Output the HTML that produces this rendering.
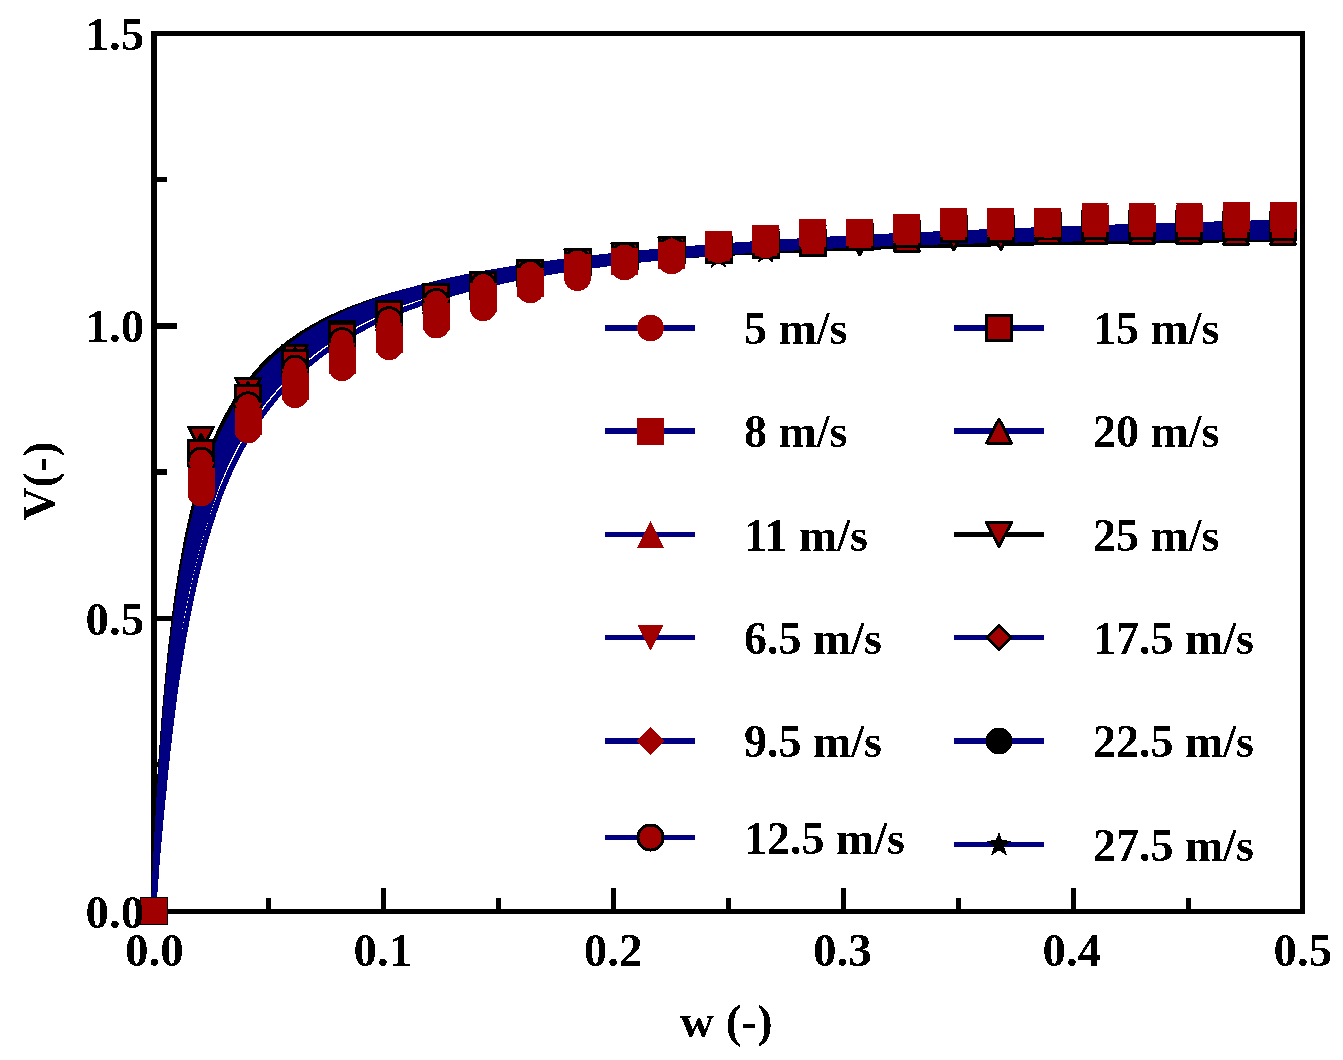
<!DOCTYPE html><html><head><meta charset="utf-8"><style>html,body{margin:0;padding:0;background:#fff;}svg{display:block}</style></head><body>
<svg width="1343" height="1060" viewBox="0 0 1343 1060" shape-rendering="crispEdges">
<defs><filter id="bin" x="0" y="0" width="1" height="1" color-interpolation-filters="sRGB"><feComponentTransfer><feFuncA type="discrete" tableValues="0 1"/></feComponentTransfer></filter></defs>
<rect width="1343" height="1060" fill="#fff"/>
<g fill="#000">
<rect x="151" y="31" width="1154" height="5"/><rect x="151" y="909" width="1154" height="5"/>
<rect x="151" y="31" width="6" height="883"/><rect x="1300" y="31" width="5" height="883"/>
<rect x="266.0" y="898" width="5" height="12"/>
<rect x="381.0" y="888" width="5" height="22"/>
<rect x="496.0" y="898" width="5" height="12"/>
<rect x="611.0" y="888" width="5" height="22"/>
<rect x="726.0" y="898" width="5" height="12"/>
<rect x="841.0" y="888" width="5" height="22"/>
<rect x="956.0" y="898" width="5" height="12"/>
<rect x="1071.0" y="888" width="5" height="22"/>
<rect x="1186.0" y="898" width="5" height="12"/>
<rect x="156" y="177" width="11" height="5"/>
<rect x="156" y="323" width="21" height="6"/>
<rect x="156" y="469" width="11" height="6"/>
<rect x="156" y="616" width="21" height="5"/>
<rect x="156" y="762" width="11" height="5"/>
</g>
<g fill="none" stroke-linejoin="round" stroke-linecap="butt" stroke-width="5.5">
<path d="M153.5,911.5 153.8,903.5 154.1,896.0 154.4,888.9 154.7,881.9 154.9,875.2 155.2,868.6 155.5,862.3 155.8,856.0 156.1,849.9 156.4,844.0 156.7,838.2 156.9,832.5 157.2,826.9 157.5,821.4 157.8,816.1 158.1,810.9 158.4,805.7 158.7,800.7 159.0,795.7 159.2,790.9 159.5,786.1 159.8,781.4 160.1,776.8 160.4,772.3 161.1,761.6 161.8,751.4 162.5,741.6 163.2,732.2 163.9,723.1 164.6,714.4 165.3,705.9 166.0,697.8 166.7,689.9 167.4,682.3 168.1,675.0 168.8,667.9 169.5,661.0 170.2,654.3 170.9,647.9 171.6,641.6 172.3,635.5 173.0,629.6 173.7,623.9 174.4,618.3 175.1,612.9 175.8,607.7 176.4,602.5 177.1,597.6 177.8,592.7 178.5,588.0 179.2,583.4 179.9,578.9 180.6,574.5 181.3,570.2 182.0,566.1 182.7,562.0 183.4,558.0 184.1,554.1 184.8,550.3 185.5,546.6 186.2,543.0 186.9,539.5 187.6,536.0 188.3,532.6 189.0,529.3 189.7,526.1 190.4,522.9 191.1,519.8 191.8,516.7 192.5,513.7 193.2,510.8 193.9,508.0 194.6,505.1 195.3,502.4 196.0,499.7 196.7,497.0 197.4,494.4 198.1,491.9 198.8,489.4 199.5,486.9 200.2,484.5 200.9,482.1 201.6,479.8 202.3,477.5 203.0,475.3 203.7,473.1 204.4,470.9 205.1,468.8 205.8,466.7 206.5,464.6 207.1,462.6 207.8,460.6 208.5,458.6 209.2,456.7 209.9,454.8 210.6,452.9 211.3,451.1 212.0,449.3 212.7,447.5 213.4,445.8 214.1,444.0 214.8,442.3 215.5,440.6 216.2,439.0 216.9,437.4 217.6,435.8 218.3,434.2 219.0,432.6 219.7,431.1 220.4,429.6 221.1,428.1 221.8,426.6 222.5,425.2 229.2,412.3 235.8,400.9 242.5,390.8 249.2,381.8 255.9,373.6 262.5,366.2 269.2,359.5 275.9,353.4 282.5,347.8 289.2,342.6 295.9,337.9 302.6,333.4 309.2,329.3 315.9,325.5 322.6,321.9 329.2,318.6 335.9,315.5 342.6,312.5 349.3,309.7 355.9,307.1 362.6,304.7 369.3,302.3 375.9,300.1 382.6,298.0 389.3,296.0 395.9,294.1 402.6,292.3 409.3,290.6 416.0,289.0 422.6,287.4 429.3,285.9 436.0,284.5 442.6,283.1 449.3,281.8 456.0,280.5 462.7,279.3 469.3,278.1 476.0,277.0 482.7,275.9 489.3,274.9 496.0,273.9 502.7,272.9 509.4,272.0 516.0,271.1 522.7,270.2 529.4,269.4 536.0,268.6 542.7,267.8 549.4,267.0 556.1,266.3 562.7,265.6 569.4,264.9 576.1,264.2 582.7,263.6 589.4,262.9 596.1,262.3 602.8,261.7 609.4,261.2 616.1,260.6 622.8,260.1 629.4,259.5 636.1,259.0 642.8,258.5 649.4,258.0 656.1,257.5 662.8,257.1 669.5,256.6 676.1,256.2 682.8,255.8 689.5,255.3 696.1,254.9 702.8,254.5 709.5,254.2 716.2,253.8 722.8,253.4 729.5,253.1 736.2,252.7 742.8,252.4 749.5,252.0 756.2,251.7 762.9,251.4 769.5,251.1 776.2,250.8 782.9,250.5 789.5,250.2 796.2,249.9 802.9,249.6 809.6,249.3 816.2,249.1 822.9,248.8 829.6,248.6 836.2,248.3 842.9,248.1 849.6,247.8 856.3,247.6 862.9,247.4 869.6,247.1 876.3,246.9 882.9,246.7 889.6,246.5 896.3,246.3 902.9,246.1 909.6,245.9 916.3,245.7 923.0,245.5 929.6,245.3 936.3,245.1 943.0,244.9 949.6,244.8 956.3,244.6 963.0,244.4 969.7,244.2 976.3,244.1 983.0,243.9 989.7,243.8 996.3,243.6 1003.0,243.5 1009.7,243.3 1016.4,243.2 1023.0,243.0 1029.7,242.9 1036.4,242.7 1043.0,242.6 1049.7,242.5 1056.4,242.3 1063.1,242.2 1069.7,242.1 1076.4,242.0 1083.1,241.8 1089.7,241.7 1096.4,241.6 1103.1,241.5 1109.8,241.4 1116.4,241.3 1123.1,241.2 1129.8,241.0 1136.4,240.9 1143.1,240.8 1149.8,240.7 1156.4,240.6 1163.1,240.5 1169.8,240.4 1176.5,240.3 1183.1,240.3 1189.8,240.2 1196.5,240.1 1203.1,240.0 1209.8,239.9 1216.5,239.8 1223.2,239.7 1229.8,239.6 1236.5,239.6 1243.2,239.5 1249.8,239.4 1256.5,239.3 1263.2,239.3 1269.9,239.2 1276.5,239.1 1283.2,239.0" stroke="#000"/>
<path d="M153.5,911.5 153.8,904.1 154.1,897.2 154.4,890.6 154.7,884.1 154.9,877.9 155.2,871.8 155.5,865.8 155.8,860.0 156.1,854.3 156.4,848.7 156.7,843.2 156.9,837.8 157.2,832.6 157.5,827.4 157.8,822.4 158.1,817.4 158.4,812.5 158.7,807.7 159.0,803.0 159.2,798.4 159.5,793.9 159.8,789.4 160.1,785.0 160.4,780.7 161.1,770.5 161.8,760.7 162.5,751.2 163.2,742.1 163.9,733.3 164.6,724.8 165.3,716.7 166.0,708.7 166.7,701.1 167.4,693.7 168.1,686.5 168.8,679.5 169.5,672.7 170.2,666.2 170.9,659.8 171.6,653.7 172.3,647.7 173.0,641.8 173.7,636.1 174.4,630.6 175.1,625.2 175.8,620.0 176.4,614.9 177.1,609.9 177.8,605.1 178.5,600.4 179.2,595.8 179.9,591.3 180.6,586.9 181.3,582.6 182.0,578.4 182.7,574.3 183.4,570.3 184.1,566.4 184.8,562.6 185.5,558.9 186.2,555.2 186.9,551.6 187.6,548.1 188.3,544.7 189.0,541.3 189.7,538.0 190.4,534.8 191.1,531.7 191.8,528.6 192.5,525.5 193.2,522.5 193.9,519.6 194.6,516.8 195.3,514.0 196.0,511.2 196.7,508.5 197.4,505.8 198.1,503.2 198.8,500.7 199.5,498.1 200.2,495.7 200.9,493.2 201.6,490.9 202.3,488.5 203.0,486.2 203.7,483.9 204.4,481.7 205.1,479.5 205.8,477.3 206.5,475.2 207.1,473.1 207.8,471.1 208.5,469.1 209.2,467.1 209.9,465.1 210.6,463.2 211.3,461.3 212.0,459.4 212.7,457.6 213.4,455.7 214.1,454.0 214.8,452.2 215.5,450.5 216.2,448.8 216.9,447.1 217.6,445.4 218.3,443.8 219.0,442.1 219.7,440.6 220.4,439.0 221.1,437.4 221.8,435.9 222.5,434.4 229.2,421.0 235.8,409.0 242.5,398.4 249.2,388.9 255.9,380.3 262.5,372.5 269.2,365.4 275.9,358.8 282.5,352.8 289.2,347.3 295.9,342.2 302.6,337.4 309.2,333.0 315.9,328.9 322.6,325.0 329.2,321.4 335.9,317.9 342.6,314.7 349.3,311.7 355.9,308.8 362.6,306.1 369.3,303.5 375.9,301.1 382.6,298.8 389.3,296.6 395.9,294.4 402.6,292.4 409.3,290.5 416.0,288.7 422.6,286.9 429.3,285.2 436.0,283.6 442.6,282.0 449.3,280.5 456.0,279.1 462.7,277.7 469.3,276.3 476.0,275.0 482.7,273.8 489.3,272.6 496.0,271.4 502.7,270.3 509.4,269.2 516.0,268.1 522.7,267.1 529.4,266.1 536.0,265.1 542.7,264.2 549.4,263.3 556.1,262.4 562.7,261.5 569.4,260.7 576.1,259.9 582.7,259.1 589.4,258.3 596.1,257.6 602.8,256.8 609.4,256.1 616.1,255.4 622.8,254.7 629.4,254.1 636.1,253.4 642.8,252.8 649.4,252.2 656.1,251.6 662.8,251.0 669.5,250.4 676.1,249.8 682.8,249.3 689.5,248.7 696.1,248.2 702.8,247.6 709.5,247.1 716.2,246.6 722.8,246.1 729.5,245.7 736.2,245.2 742.8,244.7 749.5,244.3 756.2,243.8 762.9,243.4 769.5,242.9 776.2,242.5 782.9,242.1 789.5,241.7 796.2,241.3 802.9,240.9 809.6,240.5 816.2,240.1 822.9,239.7 829.6,239.3 836.2,239.0 842.9,238.6 849.6,238.3 856.3,237.9 862.9,237.6 869.6,237.2 876.3,236.9 882.9,236.6 889.6,236.2 896.3,235.9 902.9,235.6 909.6,235.3 916.3,235.0 923.0,234.7 929.6,234.4 936.3,234.1 943.0,233.8 949.6,233.5 956.3,233.2 963.0,232.9 969.7,232.6 976.3,232.4 983.0,232.1 989.7,231.8 996.3,231.6 1003.0,231.3 1009.7,231.0 1016.4,230.8 1023.0,230.5 1029.7,230.3 1036.4,230.0 1043.0,229.8 1049.7,229.5 1056.4,229.3 1063.1,229.1 1069.7,228.8 1076.4,228.6 1083.1,228.4 1089.7,228.1 1096.4,227.9 1103.1,227.7 1109.8,227.5 1116.4,227.2 1123.1,227.0 1129.8,226.8 1136.4,226.6 1143.1,226.4 1149.8,226.2 1156.4,226.0 1163.1,225.8 1169.8,225.6 1176.5,225.4 1183.1,225.2 1189.8,225.0 1196.5,224.8 1203.1,224.6 1209.8,224.4 1216.5,224.2 1223.2,224.0 1229.8,223.8 1236.5,223.6 1243.2,223.4 1249.8,223.3 1256.5,223.1 1263.2,222.9 1269.9,222.7 1276.5,222.5 1283.2,222.4" stroke="#000080"/>
<path d="M153.5,911.5 153.8,904.3 154.1,897.5 154.4,891.0 154.7,884.7 154.9,878.5 155.2,872.5 155.5,866.7 155.8,860.9 156.1,855.3 156.4,849.9 156.7,844.5 156.9,839.2 157.2,834.1 157.5,829.0 157.8,824.0 158.1,819.1 158.4,814.3 158.7,809.6 159.0,805.0 159.2,800.5 159.5,796.0 159.8,791.6 160.1,787.3 160.4,783.0 161.1,773.0 161.8,763.3 162.5,754.0 163.2,745.0 163.9,736.4 164.6,728.0 165.3,719.9 166.0,712.1 166.7,704.5 167.4,697.2 168.1,690.1 168.8,683.2 169.5,676.5 170.2,670.0 170.9,663.7 171.6,657.6 172.3,651.6 173.0,645.8 173.7,640.2 174.4,634.7 175.1,629.3 175.8,624.1 176.4,619.1 177.1,614.1 177.8,609.3 178.5,604.6 179.2,600.0 179.9,595.5 180.6,591.2 181.3,586.9 182.0,582.7 182.7,578.6 183.4,574.7 184.1,570.8 184.8,566.9 185.5,563.2 186.2,559.6 186.9,556.0 187.6,552.5 188.3,549.1 189.0,545.7 189.7,542.4 190.4,539.2 191.1,536.0 191.8,532.9 192.5,529.9 193.2,526.9 193.9,524.0 194.6,521.1 195.3,518.3 196.0,515.5 196.7,512.8 197.4,510.1 198.1,507.5 198.8,504.9 199.5,502.4 200.2,499.9 200.9,497.5 201.6,495.1 202.3,492.7 203.0,490.4 203.7,488.1 204.4,485.9 205.1,483.7 205.8,481.5 206.5,479.4 207.1,477.3 207.8,475.2 208.5,473.2 209.2,471.2 209.9,469.2 210.6,467.2 211.3,465.3 212.0,463.4 212.7,461.6 213.4,459.8 214.1,458.0 214.8,456.2 215.5,454.4 216.2,452.7 216.9,451.0 217.6,449.3 218.3,447.7 219.0,446.0 219.7,444.4 220.4,442.8 221.1,441.3 221.8,439.7 222.5,438.2 229.2,424.6 235.8,412.6 242.5,401.8 249.2,392.1 255.9,383.4 262.5,375.4 269.2,368.2 275.9,361.5 282.5,355.4 289.2,349.8 295.9,344.5 302.6,339.7 309.2,335.2 315.9,330.9 322.6,327.0 329.2,323.3 335.9,319.8 342.6,316.5 349.3,313.4 355.9,310.5 362.6,307.7 369.3,305.0 375.9,302.5 382.6,300.2 389.3,297.9 395.9,295.7 402.6,293.7 409.3,291.7 416.0,289.8 422.6,288.0 429.3,286.3 436.0,284.6 442.6,283.0 449.3,281.5 456.0,280.0 462.7,278.6 469.3,277.2 476.0,275.9 482.7,274.6 489.3,273.4 496.0,272.2 502.7,271.0 509.4,269.9 516.0,268.8 522.7,267.8 529.4,266.8 536.0,265.8 542.7,264.8 549.4,263.9 556.1,263.0 562.7,262.1 569.4,261.3 576.1,260.4 582.7,259.6 589.4,258.9 596.1,258.1 602.8,257.4 609.4,256.6 616.1,255.9 622.8,255.2 629.4,254.6 636.1,253.9 642.8,253.3 649.4,252.6 656.1,252.0 662.8,251.4 669.5,250.8 676.1,250.3 682.8,249.7 689.5,249.2 696.1,248.6 702.8,248.1 709.5,247.6 716.2,247.1 722.8,246.6 729.5,246.1 736.2,245.6 742.8,245.1 749.5,244.7 756.2,244.2 762.9,243.8 769.5,243.4 776.2,242.9 782.9,242.5 789.5,242.1 796.2,241.7 802.9,241.3 809.6,240.9 816.2,240.5 822.9,240.2 829.6,239.8 836.2,239.4 842.9,239.1 849.6,238.7 856.3,238.4 862.9,238.0 869.6,237.7 876.3,237.4 882.9,237.0 889.6,236.7 896.3,236.4 902.9,236.1 909.6,235.8 916.3,235.5 923.0,235.2 929.6,234.9 936.3,234.6 943.0,234.3 949.6,234.0 956.3,233.8 963.0,233.5 969.7,233.2 976.3,232.9 983.0,232.7 989.7,232.4 996.3,232.2 1003.0,231.9 1009.7,231.7 1016.4,231.4 1023.0,231.2 1029.7,230.9 1036.4,230.7 1043.0,230.4 1049.7,230.2 1056.4,230.0 1063.1,229.7 1069.7,229.5 1076.4,229.3 1083.1,229.1 1089.7,228.9 1096.4,228.6 1103.1,228.4 1109.8,228.2 1116.4,228.0 1123.1,227.8 1129.8,227.6 1136.4,227.4 1143.1,227.2 1149.8,227.0 1156.4,226.8 1163.1,226.6 1169.8,226.4 1176.5,226.2 1183.1,226.0 1189.8,225.8 1196.5,225.7 1203.1,225.5 1209.8,225.3 1216.5,225.1 1223.2,224.9 1229.8,224.8 1236.5,224.6 1243.2,224.4 1249.8,224.2 1256.5,224.1 1263.2,223.9 1269.9,223.7 1276.5,223.6 1283.2,223.4" stroke="#000080"/>
<path d="M153.5,911.5 153.8,904.4 154.1,897.8 154.4,891.4 154.7,885.2 154.9,879.1 155.2,873.3 155.5,867.5 155.8,861.9 156.1,856.4 156.4,851.0 156.7,845.8 156.9,840.6 157.2,835.5 157.5,830.6 157.8,825.7 158.1,820.9 158.4,816.2 158.7,811.5 159.0,807.0 159.2,802.5 159.5,798.1 159.8,793.8 160.1,789.6 160.4,785.4 161.1,775.5 161.8,766.0 162.5,756.8 163.2,747.9 163.9,739.4 164.6,731.1 165.3,723.1 166.0,715.4 166.7,707.9 167.4,700.7 168.1,693.6 168.8,686.8 169.5,680.2 170.2,673.8 170.9,667.5 171.6,661.4 172.3,655.5 173.0,649.8 173.7,644.2 174.4,638.8 175.1,633.5 175.8,628.3 176.4,623.2 177.1,618.3 177.8,613.5 178.5,608.9 179.2,604.3 179.9,599.8 180.6,595.5 181.3,591.2 182.0,587.0 182.7,583.0 183.4,579.0 184.1,575.1 184.8,571.3 185.5,567.6 186.2,563.9 186.9,560.3 187.6,556.8 188.3,553.4 189.0,550.1 189.7,546.8 190.4,543.5 191.1,540.4 191.8,537.3 192.5,534.2 193.2,531.2 193.9,528.3 194.6,525.4 195.3,522.6 196.0,519.8 196.7,517.1 197.4,514.4 198.1,511.8 198.8,509.2 199.5,506.7 200.2,504.2 200.9,501.7 201.6,499.3 202.3,497.0 203.0,494.6 203.7,492.3 204.4,490.1 205.1,487.9 205.8,485.7 206.5,483.5 207.1,481.4 207.8,479.3 208.5,477.3 209.2,475.3 209.9,473.3 210.6,471.3 211.3,469.4 212.0,467.5 212.7,465.6 213.4,463.8 214.1,461.9 214.8,460.2 215.5,458.4 216.2,456.6 216.9,454.9 217.6,453.2 218.3,451.6 219.0,449.9 219.7,448.3 220.4,446.7 221.1,445.1 221.8,443.5 222.5,442.0 229.2,428.3 235.8,416.1 242.5,405.1 249.2,395.3 255.9,386.4 262.5,378.4 269.2,371.0 275.9,364.2 282.5,358.0 289.2,352.2 295.9,346.9 302.6,341.9 309.2,337.3 315.9,333.0 322.6,329.0 329.2,325.2 335.9,321.6 342.6,318.3 349.3,315.1 355.9,312.1 362.6,309.2 369.3,306.5 375.9,304.0 382.6,301.6 389.3,299.2 395.9,297.0 402.6,294.9 409.3,292.9 416.0,291.0 422.6,289.1 429.3,287.3 436.0,285.6 442.6,284.0 449.3,282.4 456.0,280.9 462.7,279.5 469.3,278.1 476.0,276.7 482.7,275.4 489.3,274.2 496.0,273.0 502.7,271.8 509.4,270.6 516.0,269.5 522.7,268.5 529.4,267.4 536.0,266.4 542.7,265.5 549.4,264.5 556.1,263.6 562.7,262.7 569.4,261.9 576.1,261.0 582.7,260.2 589.4,259.4 596.1,258.6 602.8,257.9 609.4,257.1 616.1,256.4 622.8,255.7 629.4,255.0 636.1,254.4 642.8,253.7 649.4,253.1 656.1,252.5 662.8,251.9 669.5,251.3 676.1,250.7 682.8,250.2 689.5,249.6 696.1,249.1 702.8,248.5 709.5,248.0 716.2,247.5 722.8,247.0 729.5,246.5 736.2,246.0 742.8,245.6 749.5,245.1 756.2,244.7 762.9,244.2 769.5,243.8 776.2,243.4 782.9,243.0 789.5,242.6 796.2,242.2 802.9,241.8 809.6,241.4 816.2,241.0 822.9,240.6 829.6,240.3 836.2,239.9 842.9,239.5 849.6,239.2 856.3,238.9 862.9,238.5 869.6,238.2 876.3,237.9 882.9,237.5 889.6,237.2 896.3,236.9 902.9,236.6 909.6,236.3 916.3,236.0 923.0,235.7 929.6,235.4 936.3,235.1 943.0,234.9 949.6,234.6 956.3,234.3 963.0,234.0 969.7,233.8 976.3,233.5 983.0,233.3 989.7,233.0 996.3,232.8 1003.0,232.5 1009.7,232.3 1016.4,232.0 1023.0,231.8 1029.7,231.6 1036.4,231.3 1043.0,231.1 1049.7,230.9 1056.4,230.7 1063.1,230.4 1069.7,230.2 1076.4,230.0 1083.1,229.8 1089.7,229.6 1096.4,229.4 1103.1,229.2 1109.8,229.0 1116.4,228.8 1123.1,228.6 1129.8,228.4 1136.4,228.2 1143.1,228.0 1149.8,227.8 1156.4,227.6 1163.1,227.4 1169.8,227.3 1176.5,227.1 1183.1,226.9 1189.8,226.7 1196.5,226.6 1203.1,226.4 1209.8,226.2 1216.5,226.0 1223.2,225.9 1229.8,225.7 1236.5,225.5 1243.2,225.4 1249.8,225.2 1256.5,225.1 1263.2,224.9 1269.9,224.7 1276.5,224.6 1283.2,224.4" stroke="#000080"/>
<path d="M153.5,911.5 153.8,904.5 154.1,898.0 154.4,891.8 154.7,885.7 154.9,879.8 155.2,874.0 155.5,868.4 155.8,862.9 156.1,857.5 156.4,852.2 156.7,847.1 156.9,842.0 157.2,837.0 157.5,832.1 157.8,827.3 158.1,822.6 158.4,818.0 158.7,813.5 159.0,809.0 159.2,804.6 159.5,800.3 159.8,796.0 160.1,791.8 160.4,787.7 161.1,778.0 161.8,768.6 162.5,759.6 163.2,750.8 163.9,742.4 164.6,734.3 165.3,726.4 166.0,718.7 166.7,711.4 167.4,704.2 168.1,697.2 168.8,690.5 169.5,683.9 170.2,677.6 170.9,671.4 171.6,665.3 172.3,659.5 173.0,653.8 173.7,648.2 174.4,642.8 175.1,637.6 175.8,632.4 176.4,627.4 177.1,622.5 177.8,617.7 178.5,613.1 179.2,608.5 179.9,604.1 180.6,599.8 181.3,595.5 182.0,591.4 182.7,587.3 183.4,583.3 184.1,579.5 184.8,575.7 185.5,571.9 186.2,568.3 186.9,564.7 187.6,561.2 188.3,557.8 189.0,554.4 189.7,551.1 190.4,547.9 191.1,544.7 191.8,541.6 192.5,538.6 193.2,535.6 193.9,532.6 194.6,529.8 195.3,526.9 196.0,524.2 196.7,521.4 197.4,518.7 198.1,516.1 198.8,513.5 199.5,511.0 200.2,508.5 200.9,506.0 201.6,503.6 202.3,501.2 203.0,498.8 203.7,496.5 204.4,494.3 205.1,492.0 205.8,489.8 206.5,487.7 207.1,485.5 207.8,483.5 208.5,481.4 209.2,479.4 209.9,477.4 210.6,475.4 211.3,473.4 212.0,471.5 212.7,469.6 213.4,467.8 214.1,465.9 214.8,464.1 215.5,462.3 216.2,460.6 216.9,458.9 217.6,457.1 218.3,455.5 219.0,453.8 219.7,452.2 220.4,450.5 221.1,448.9 221.8,447.4 222.5,445.8 229.2,431.9 235.8,419.6 242.5,408.5 249.2,398.5 255.9,389.5 262.5,381.3 269.2,373.8 275.9,366.9 282.5,360.6 289.2,354.7 295.9,349.3 302.6,344.2 309.2,339.5 315.9,335.1 322.6,331.0 329.2,327.1 335.9,323.4 342.6,320.0 349.3,316.8 355.9,313.7 362.6,310.8 369.3,308.0 375.9,305.4 382.6,302.9 389.3,300.6 395.9,298.3 402.6,296.2 409.3,294.1 416.0,292.1 422.6,290.2 429.3,288.4 436.0,286.7 442.6,285.0 449.3,283.4 456.0,281.9 462.7,280.4 469.3,279.0 476.0,277.6 482.7,276.2 489.3,275.0 496.0,273.7 502.7,272.5 509.4,271.4 516.0,270.3 522.7,269.2 529.4,268.1 536.0,267.1 542.7,266.1 549.4,265.1 556.1,264.2 562.7,263.3 569.4,262.4 576.1,261.6 582.7,260.8 589.4,260.0 596.1,259.2 602.8,258.4 609.4,257.7 616.1,256.9 622.8,256.2 629.4,255.5 636.1,254.9 642.8,254.2 649.4,253.6 656.1,253.0 662.8,252.3 669.5,251.7 676.1,251.2 682.8,250.6 689.5,250.0 696.1,249.5 702.8,249.0 709.5,248.5 716.2,247.9 722.8,247.4 729.5,247.0 736.2,246.5 742.8,246.0 749.5,245.6 756.2,245.1 762.9,244.7 769.5,244.2 776.2,243.8 782.9,243.4 789.5,243.0 796.2,242.6 802.9,242.2 809.6,241.8 816.2,241.5 822.9,241.1 829.6,240.7 836.2,240.4 842.9,240.0 849.6,239.7 856.3,239.3 862.9,239.0 869.6,238.7 876.3,238.3 882.9,238.0 889.6,237.7 896.3,237.4 902.9,237.1 909.6,236.8 916.3,236.5 923.0,236.2 929.6,236.0 936.3,235.7 943.0,235.4 949.6,235.1 956.3,234.9 963.0,234.6 969.7,234.4 976.3,234.1 983.0,233.9 989.7,233.6 996.3,233.4 1003.0,233.1 1009.7,232.9 1016.4,232.7 1023.0,232.4 1029.7,232.2 1036.4,232.0 1043.0,231.8 1049.7,231.6 1056.4,231.3 1063.1,231.1 1069.7,230.9 1076.4,230.7 1083.1,230.5 1089.7,230.3 1096.4,230.1 1103.1,229.9 1109.8,229.7 1116.4,229.5 1123.1,229.4 1129.8,229.2 1136.4,229.0 1143.1,228.8 1149.8,228.6 1156.4,228.5 1163.1,228.3 1169.8,228.1 1176.5,227.9 1183.1,227.8 1189.8,227.6 1196.5,227.4 1203.1,227.3 1209.8,227.1 1216.5,227.0 1223.2,226.8 1229.8,226.7 1236.5,226.5 1243.2,226.3 1249.8,226.2 1256.5,226.0 1263.2,225.9 1269.9,225.8 1276.5,225.6 1283.2,225.5" stroke="#000080"/>
<path d="M153.5,911.5 153.8,904.6 154.1,898.3 154.4,892.1 154.7,886.2 154.9,880.4 155.2,874.8 155.5,869.2 155.8,863.9 156.1,858.6 156.4,853.4 156.7,848.3 156.9,843.4 157.2,838.5 157.5,833.7 157.8,829.0 158.1,824.4 158.4,819.8 158.7,815.4 159.0,811.0 159.2,806.7 159.5,802.4 159.8,798.2 160.1,794.1 160.4,790.1 161.1,780.5 161.8,771.3 162.5,762.4 163.2,753.8 163.9,745.4 164.6,737.4 165.3,729.6 166.0,722.1 166.7,714.8 167.4,707.7 168.1,700.8 168.8,694.1 169.5,687.6 170.2,681.3 170.9,675.2 171.6,669.2 172.3,663.4 173.0,657.8 173.7,652.3 174.4,646.9 175.1,641.7 175.8,636.6 176.4,631.6 177.1,626.7 177.8,622.0 178.5,617.3 179.2,612.8 179.9,608.4 180.6,604.0 181.3,599.8 182.0,595.7 182.7,591.6 183.4,587.7 184.1,583.8 184.8,580.0 185.5,576.3 186.2,572.6 186.9,569.1 187.6,565.6 188.3,562.2 189.0,558.8 189.7,555.5 190.4,552.3 191.1,549.1 191.8,546.0 192.5,542.9 193.2,539.9 193.9,537.0 194.6,534.1 195.3,531.3 196.0,528.5 196.7,525.7 197.4,523.0 198.1,520.4 198.8,517.8 199.5,515.2 200.2,512.7 200.9,510.2 201.6,507.8 202.3,505.4 203.0,503.1 203.7,500.7 204.4,498.5 205.1,496.2 205.8,494.0 206.5,491.8 207.1,489.7 207.8,487.6 208.5,485.5 209.2,483.4 209.9,481.4 210.6,479.4 211.3,477.5 212.0,475.6 212.7,473.7 213.4,471.8 214.1,469.9 214.8,468.1 215.5,466.3 216.2,464.5 216.9,462.8 217.6,461.1 218.3,459.4 219.0,457.7 219.7,456.0 220.4,454.4 221.1,452.8 221.8,451.2 222.5,449.6 229.2,435.6 235.8,423.1 242.5,411.8 249.2,401.7 255.9,392.6 262.5,384.2 269.2,376.6 275.9,369.6 282.5,363.1 289.2,357.2 295.9,351.6 302.6,346.5 309.2,341.7 315.9,337.2 322.6,333.0 329.2,329.0 335.9,325.3 342.6,321.8 349.3,318.5 355.9,315.3 362.6,312.4 369.3,309.5 375.9,306.9 382.6,304.3 389.3,301.9 395.9,299.6 402.6,297.4 409.3,295.3 416.0,293.3 422.6,291.3 429.3,289.5 436.0,287.7 442.6,286.0 449.3,284.4 456.0,282.8 462.7,281.3 469.3,279.8 476.0,278.4 482.7,277.1 489.3,275.8 496.0,274.5 502.7,273.3 509.4,272.1 516.0,271.0 522.7,269.9 529.4,268.8 536.0,267.8 542.7,266.7 549.4,265.8 556.1,264.8 562.7,263.9 569.4,263.0 576.1,262.2 582.7,261.3 589.4,260.5 596.1,259.7 602.8,258.9 609.4,258.2 616.1,257.4 622.8,256.7 629.4,256.0 636.1,255.4 642.8,254.7 649.4,254.0 656.1,253.4 662.8,252.8 669.5,252.2 676.1,251.6 682.8,251.1 689.5,250.5 696.1,249.9 702.8,249.4 709.5,248.9 716.2,248.4 722.8,247.9 729.5,247.4 736.2,246.9 742.8,246.5 749.5,246.0 756.2,245.5 762.9,245.1 769.5,244.7 776.2,244.3 782.9,243.8 789.5,243.4 796.2,243.0 802.9,242.7 809.6,242.3 816.2,241.9 822.9,241.5 829.6,241.2 836.2,240.8 842.9,240.5 849.6,240.1 856.3,239.8 862.9,239.5 869.6,239.2 876.3,238.8 882.9,238.5 889.6,238.2 896.3,237.9 902.9,237.6 909.6,237.3 916.3,237.1 923.0,236.8 929.6,236.5 936.3,236.2 943.0,236.0 949.6,235.7 956.3,235.4 963.0,235.2 969.7,234.9 976.3,234.7 983.0,234.4 989.7,234.2 996.3,234.0 1003.0,233.7 1009.7,233.5 1016.4,233.3 1023.0,233.1 1029.7,232.9 1036.4,232.6 1043.0,232.4 1049.7,232.2 1056.4,232.0 1063.1,231.8 1069.7,231.6 1076.4,231.4 1083.1,231.2 1089.7,231.0 1096.4,230.9 1103.1,230.7 1109.8,230.5 1116.4,230.3 1123.1,230.1 1129.8,230.0 1136.4,229.8 1143.1,229.6 1149.8,229.4 1156.4,229.3 1163.1,229.1 1169.8,229.0 1176.5,228.8 1183.1,228.6 1189.8,228.5 1196.5,228.3 1203.1,228.2 1209.8,228.0 1216.5,227.9 1223.2,227.7 1229.8,227.6 1236.5,227.5 1243.2,227.3 1249.8,227.2 1256.5,227.0 1263.2,226.9 1269.9,226.8 1276.5,226.6 1283.2,226.5" stroke="#000080"/>
<path d="M153.5,911.5 153.8,904.8 154.1,898.5 154.4,892.5 154.7,886.7 154.9,881.0 155.2,875.5 155.5,870.1 155.8,864.8 156.1,859.7 156.4,854.6 156.7,849.6 156.9,844.7 157.2,840.0 157.5,835.3 157.8,830.6 158.1,826.1 158.4,821.6 158.7,817.3 159.0,813.0 159.2,808.7 159.5,804.5 159.8,800.4 160.1,796.4 160.4,792.4 161.1,783.0 161.8,773.9 162.5,765.1 163.2,756.7 163.9,748.5 164.6,740.6 165.3,732.9 166.0,725.4 166.7,718.2 167.4,711.2 168.1,704.4 168.8,697.8 169.5,691.4 170.2,685.1 170.9,679.0 171.6,673.1 172.3,667.4 173.0,661.8 173.7,656.3 174.4,651.0 175.1,645.8 175.8,640.7 176.4,635.7 177.1,630.9 177.8,626.2 178.5,621.6 179.2,617.1 179.9,612.7 180.6,608.3 181.3,604.1 182.0,600.0 182.7,596.0 183.4,592.0 184.1,588.1 184.8,584.4 185.5,580.6 186.2,577.0 186.9,573.4 187.6,569.9 188.3,566.5 189.0,563.2 189.7,559.9 190.4,556.6 191.1,553.5 191.8,550.3 192.5,547.3 193.2,544.3 193.9,541.3 194.6,538.4 195.3,535.6 196.0,532.8 196.7,530.0 197.4,527.3 198.1,524.7 198.8,522.1 199.5,519.5 200.2,517.0 200.9,514.5 201.6,512.0 202.3,509.6 203.0,507.3 203.7,504.9 204.4,502.6 205.1,500.4 205.8,498.2 206.5,496.0 207.1,493.8 207.8,491.7 208.5,489.6 209.2,487.5 209.9,485.5 210.6,483.5 211.3,481.5 212.0,479.6 212.7,477.7 213.4,475.8 214.1,473.9 214.8,472.1 215.5,470.3 216.2,468.5 216.9,466.7 217.6,465.0 218.3,463.3 219.0,461.6 219.7,459.9 220.4,458.2 221.1,456.6 221.8,455.0 222.5,453.4 229.2,439.2 235.8,426.6 242.5,415.2 249.2,404.9 255.9,395.7 262.5,387.2 269.2,379.4 275.9,372.3 282.5,365.7 289.2,359.6 295.9,354.0 302.6,348.7 309.2,343.8 315.9,339.2 322.6,334.9 329.2,330.9 335.9,327.1 342.6,323.5 349.3,320.2 355.9,317.0 362.6,313.9 369.3,311.1 375.9,308.3 382.6,305.7 389.3,303.2 395.9,300.9 402.6,298.6 409.3,296.5 416.0,294.4 422.6,292.5 429.3,290.6 436.0,288.8 442.6,287.0 449.3,285.4 456.0,283.7 462.7,282.2 469.3,280.7 476.0,279.3 482.7,277.9 489.3,276.6 496.0,275.3 502.7,274.0 509.4,272.8 516.0,271.7 522.7,270.6 529.4,269.5 536.0,268.4 542.7,267.4 549.4,266.4 556.1,265.4 562.7,264.5 569.4,263.6 576.1,262.7 582.7,261.9 589.4,261.0 596.1,260.2 602.8,259.5 609.4,258.7 616.1,258.0 622.8,257.2 629.4,256.5 636.1,255.8 642.8,255.2 649.4,254.5 656.1,253.9 662.8,253.3 669.5,252.7 676.1,252.1 682.8,251.5 689.5,250.9 696.1,250.4 702.8,249.9 709.5,249.3 716.2,248.8 722.8,248.3 729.5,247.8 736.2,247.4 742.8,246.9 749.5,246.4 756.2,246.0 762.9,245.5 769.5,245.1 776.2,244.7 782.9,244.3 789.5,243.9 796.2,243.5 802.9,243.1 809.6,242.7 816.2,242.4 822.9,242.0 829.6,241.6 836.2,241.3 842.9,240.9 849.6,240.6 856.3,240.3 862.9,240.0 869.6,239.6 876.3,239.3 882.9,239.0 889.6,238.7 896.3,238.4 902.9,238.1 909.6,237.9 916.3,237.6 923.0,237.3 929.6,237.0 936.3,236.8 943.0,236.5 949.6,236.3 956.3,236.0 963.0,235.8 969.7,235.5 976.3,235.3 983.0,235.0 989.7,234.8 996.3,234.6 1003.0,234.4 1009.7,234.1 1016.4,233.9 1023.0,233.7 1029.7,233.5 1036.4,233.3 1043.0,233.1 1049.7,232.9 1056.4,232.7 1063.1,232.5 1069.7,232.3 1076.4,232.1 1083.1,231.9 1089.7,231.8 1096.4,231.6 1103.1,231.4 1109.8,231.2 1116.4,231.1 1123.1,230.9 1129.8,230.7 1136.4,230.6 1143.1,230.4 1149.8,230.3 1156.4,230.1 1163.1,230.0 1169.8,229.8 1176.5,229.7 1183.1,229.5 1189.8,229.4 1196.5,229.2 1203.1,229.1 1209.8,228.9 1216.5,228.8 1223.2,228.7 1229.8,228.5 1236.5,228.4 1243.2,228.3 1249.8,228.2 1256.5,228.0 1263.2,227.9 1269.9,227.8 1276.5,227.7 1283.2,227.5" stroke="#000080"/>
<path d="M153.5,911.5 153.8,904.9 154.1,898.8 154.4,892.9 154.7,887.2 154.9,881.7 155.2,876.3 155.5,871.0 155.8,865.8 156.1,860.7 156.4,855.8 156.7,850.9 156.9,846.1 157.2,841.4 157.5,836.8 157.8,832.3 158.1,827.8 158.4,823.5 158.7,819.2 159.0,814.9 159.2,810.8 159.5,806.7 159.8,802.6 160.1,798.7 160.4,794.8 161.1,785.5 161.8,776.6 162.5,767.9 163.2,759.6 163.9,751.5 164.6,743.7 165.3,736.1 166.0,728.8 166.7,721.6 167.4,714.7 168.1,708.0 168.8,701.4 169.5,695.1 170.2,688.9 170.9,682.9 171.6,677.0 172.3,671.3 173.0,665.7 173.7,660.3 174.4,655.0 175.1,649.9 175.8,644.8 176.4,639.9 177.1,635.1 177.8,630.4 178.5,625.8 179.2,621.3 179.9,616.9 180.6,612.6 181.3,608.4 182.0,604.3 182.7,600.3 183.4,596.4 184.1,592.5 184.8,588.7 185.5,585.0 186.2,581.4 186.9,577.8 187.6,574.3 188.3,570.9 189.0,567.5 189.7,564.2 190.4,561.0 191.1,557.8 191.8,554.7 192.5,551.6 193.2,548.6 193.9,545.7 194.6,542.8 195.3,539.9 196.0,537.1 196.7,534.3 197.4,531.6 198.1,529.0 198.8,526.4 199.5,523.8 200.2,521.2 200.9,518.7 201.6,516.3 202.3,513.9 203.0,511.5 203.7,509.1 204.4,506.8 205.1,504.6 205.8,502.3 206.5,500.1 207.1,498.0 207.8,495.8 208.5,493.7 209.2,491.6 209.9,489.6 210.6,487.6 211.3,485.6 212.0,483.6 212.7,481.7 213.4,479.8 214.1,477.9 214.8,476.1 215.5,474.2 216.2,472.4 216.9,470.6 217.6,468.9 218.3,467.2 219.0,465.4 219.7,463.8 220.4,462.1 221.1,460.5 221.8,458.8 222.5,457.2 229.2,442.9 235.8,430.1 242.5,418.6 249.2,408.2 255.9,398.7 262.5,390.1 269.2,382.2 275.9,375.0 282.5,368.3 289.2,362.1 295.9,356.3 302.6,351.0 309.2,346.0 315.9,341.3 322.6,336.9 329.2,332.8 335.9,328.9 342.6,325.3 349.3,321.8 355.9,318.6 362.6,315.5 369.3,312.6 375.9,309.8 382.6,307.1 389.3,304.6 395.9,302.2 402.6,299.9 409.3,297.7 416.0,295.6 422.6,293.6 429.3,291.6 436.0,289.8 442.6,288.0 449.3,286.3 456.0,284.7 462.7,283.1 469.3,281.6 476.0,280.1 482.7,278.7 489.3,277.4 496.0,276.1 502.7,274.8 509.4,273.6 516.0,272.4 522.7,271.2 529.4,270.1 536.0,269.1 542.7,268.0 549.4,267.0 556.1,266.0 562.7,265.1 569.4,264.2 576.1,263.3 582.7,262.4 589.4,261.6 596.1,260.8 602.8,260.0 609.4,259.2 616.1,258.5 622.8,257.7 629.4,257.0 636.1,256.3 642.8,255.7 649.4,255.0 656.1,254.4 662.8,253.7 669.5,253.1 676.1,252.5 682.8,252.0 689.5,251.4 696.1,250.8 702.8,250.3 709.5,249.8 716.2,249.3 722.8,248.8 729.5,248.3 736.2,247.8 742.8,247.3 749.5,246.9 756.2,246.4 762.9,246.0 769.5,245.6 776.2,245.1 782.9,244.7 789.5,244.3 796.2,243.9 802.9,243.6 809.6,243.2 816.2,242.8 822.9,242.4 829.6,242.1 836.2,241.8 842.9,241.4 849.6,241.1 856.3,240.8 862.9,240.4 869.6,240.1 876.3,239.8 882.9,239.5 889.6,239.2 896.3,238.9 902.9,238.6 909.6,238.4 916.3,238.1 923.0,237.8 929.6,237.6 936.3,237.3 943.0,237.1 949.6,236.8 956.3,236.6 963.0,236.3 969.7,236.1 976.3,235.9 983.0,235.6 989.7,235.4 996.3,235.2 1003.0,235.0 1009.7,234.8 1016.4,234.6 1023.0,234.3 1029.7,234.1 1036.4,234.0 1043.0,233.8 1049.7,233.6 1056.4,233.4 1063.1,233.2 1069.7,233.0 1076.4,232.8 1083.1,232.7 1089.7,232.5 1096.4,232.3 1103.1,232.2 1109.8,232.0 1116.4,231.8 1123.1,231.7 1129.8,231.5 1136.4,231.4 1143.1,231.2 1149.8,231.1 1156.4,230.9 1163.1,230.8 1169.8,230.6 1176.5,230.5 1183.1,230.4 1189.8,230.2 1196.5,230.1 1203.1,230.0 1209.8,229.9 1216.5,229.7 1223.2,229.6 1229.8,229.5 1236.5,229.4 1243.2,229.2 1249.8,229.1 1256.5,229.0 1263.2,228.9 1269.9,228.8 1276.5,228.7 1283.2,228.6" stroke="#000080"/>
<path d="M153.5,911.5 153.8,905.1 154.1,899.1 154.4,893.4 154.7,887.8 154.9,882.4 155.2,877.1 155.5,872.0 155.8,866.9 156.1,862.0 156.4,857.1 156.7,852.4 156.9,847.7 157.2,843.1 157.5,838.6 157.8,834.2 158.1,829.8 158.4,825.6 158.7,821.4 159.0,817.2 159.2,813.1 159.5,809.1 159.8,805.2 160.1,801.3 160.4,797.4 161.1,788.4 161.8,779.6 162.5,771.1 163.2,762.9 163.9,755.0 164.6,747.3 165.3,739.8 166.0,732.6 166.7,725.5 167.4,718.7 168.1,712.1 168.8,705.6 169.5,699.3 170.2,693.2 170.9,687.3 171.6,681.5 172.3,675.8 173.0,670.3 173.7,664.9 174.4,659.7 175.1,654.6 175.8,649.5 176.4,644.7 177.1,639.9 177.8,635.2 178.5,630.6 179.2,626.2 179.9,621.8 180.6,617.5 181.3,613.4 182.0,609.3 182.7,605.2 183.4,601.3 184.1,597.5 184.8,593.7 185.5,590.0 186.2,586.4 186.9,582.8 187.6,579.3 188.3,575.9 189.0,572.5 189.7,569.2 190.4,566.0 191.1,562.8 191.8,559.7 192.5,556.6 193.2,553.6 193.9,550.6 194.6,547.7 195.3,544.9 196.0,542.0 196.7,539.3 197.4,536.6 198.1,533.9 198.8,531.2 199.5,528.7 200.2,526.1 200.9,523.6 201.6,521.1 202.3,518.7 203.0,516.3 203.7,513.9 204.4,511.6 205.1,509.3 205.8,507.1 206.5,504.9 207.1,502.7 207.8,500.5 208.5,498.4 209.2,496.3 209.9,494.3 210.6,492.2 211.3,490.2 212.0,488.2 212.7,486.3 213.4,484.4 214.1,482.5 214.8,480.6 215.5,478.8 216.2,476.9 216.9,475.1 217.6,473.4 218.3,471.6 219.0,469.9 219.7,468.2 220.4,466.5 221.1,464.8 221.8,463.2 222.5,461.6 229.2,447.0 235.8,434.1 242.5,422.4 249.2,411.8 255.9,402.2 262.5,393.5 269.2,385.4 275.9,378.1 282.5,371.2 289.2,364.9 295.9,359.0 302.6,353.6 309.2,348.5 315.9,343.7 322.6,339.2 329.2,335.0 335.9,331.0 342.6,327.3 349.3,323.8 355.9,320.4 362.6,317.3 369.3,314.3 375.9,311.4 382.6,308.7 389.3,306.1 395.9,303.7 402.6,301.3 409.3,299.1 416.0,296.9 422.6,294.8 429.3,292.9 436.0,291.0 442.6,289.2 449.3,287.4 456.0,285.8 462.7,284.1 469.3,282.6 476.0,281.1 482.7,279.7 489.3,278.3 496.0,276.9 502.7,275.7 509.4,274.4 516.0,273.2 522.7,272.0 529.4,270.9 536.0,269.8 542.7,268.8 549.4,267.7 556.1,266.7 562.7,265.8 569.4,264.8 576.1,263.9 582.7,263.1 589.4,262.2 596.1,261.4 602.8,260.6 609.4,259.8 616.1,259.0 622.8,258.3 629.4,257.6 636.1,256.9 642.8,256.2 649.4,255.5 656.1,254.9 662.8,254.3 669.5,253.6 676.1,253.0 682.8,252.5 689.5,251.9 696.1,251.3 702.8,250.8 709.5,250.3 716.2,249.8 722.8,249.3 729.5,248.8 736.2,248.3 742.8,247.8 749.5,247.4 756.2,246.9 762.9,246.5 769.5,246.1 776.2,245.6 782.9,245.2 789.5,244.8 796.2,244.4 802.9,244.1 809.6,243.7 816.2,243.3 822.9,243.0 829.6,242.6 836.2,242.3 842.9,241.9 849.6,241.6 856.3,241.3 862.9,241.0 869.6,240.7 876.3,240.4 882.9,240.1 889.6,239.8 896.3,239.5 902.9,239.2 909.6,239.0 916.3,238.7 923.0,238.4 929.6,238.2 936.3,237.9 943.0,237.7 949.6,237.4 956.3,237.2 963.0,237.0 969.7,236.7 976.3,236.5 983.0,236.3 989.7,236.1 996.3,235.9 1003.0,235.7 1009.7,235.5 1016.4,235.3 1023.0,235.1 1029.7,234.9 1036.4,234.7 1043.0,234.5 1049.7,234.3 1056.4,234.2 1063.1,234.0 1069.7,233.8 1076.4,233.6 1083.1,233.5 1089.7,233.3 1096.4,233.2 1103.1,233.0 1109.8,232.9 1116.4,232.7 1123.1,232.6 1129.8,232.4 1136.4,232.3 1143.1,232.1 1149.8,232.0 1156.4,231.9 1163.1,231.7 1169.8,231.6 1176.5,231.5 1183.1,231.4 1189.8,231.2 1196.5,231.1 1203.1,231.0 1209.8,230.9 1216.5,230.8 1223.2,230.7 1229.8,230.6 1236.5,230.5 1243.2,230.3 1249.8,230.2 1256.5,230.1 1263.2,230.0 1269.9,230.0 1276.5,229.9 1283.2,229.8" stroke="#000080"/>
<path d="M153.5,911.5 153.8,905.2 154.1,899.4 154.4,893.8 154.7,888.4 154.9,883.1 155.2,878.0 155.5,872.9 155.8,868.0 156.1,863.2 156.4,858.5 156.7,853.8 156.9,849.3 157.2,844.8 157.5,840.4 157.8,836.1 158.1,831.8 158.4,827.6 158.7,823.5 159.0,819.5 159.2,815.5 159.5,811.6 159.8,807.7 160.1,803.9 160.4,800.1 161.1,791.2 161.8,782.6 162.5,774.3 163.2,766.2 163.9,758.4 164.6,750.9 165.3,743.5 166.0,736.4 166.7,729.5 167.4,722.7 168.1,716.2 168.8,709.8 169.5,703.6 170.2,697.6 170.9,691.7 171.6,685.9 172.3,680.3 173.0,674.9 173.7,669.5 174.4,664.3 175.1,659.2 175.8,654.3 176.4,649.4 177.1,644.7 177.8,640.0 178.5,635.5 179.2,631.0 179.9,626.7 180.6,622.4 181.3,618.3 182.0,614.2 182.7,610.2 183.4,606.3 184.1,602.4 184.8,598.7 185.5,595.0 186.2,591.3 186.9,587.8 187.6,584.3 188.3,580.9 189.0,577.5 189.7,574.2 190.4,571.0 191.1,567.8 191.8,564.7 192.5,561.6 193.2,558.6 193.9,555.6 194.6,552.7 195.3,549.8 196.0,547.0 196.7,544.2 197.4,541.5 198.1,538.8 198.8,536.1 199.5,533.5 200.2,531.0 200.9,528.5 201.6,526.0 202.3,523.5 203.0,521.1 203.7,518.8 204.4,516.4 205.1,514.1 205.8,511.9 206.5,509.6 207.1,507.4 207.8,505.2 208.5,503.1 209.2,501.0 209.9,498.9 210.6,496.9 211.3,494.9 212.0,492.9 212.7,490.9 213.4,489.0 214.1,487.0 214.8,485.1 215.5,483.3 216.2,481.4 216.9,479.6 217.6,477.8 218.3,476.1 219.0,474.3 219.7,472.6 220.4,470.9 221.1,469.2 221.8,467.6 222.5,465.9 229.2,451.2 235.8,438.1 242.5,426.2 249.2,415.5 255.9,405.7 262.5,396.8 269.2,388.7 275.9,381.1 282.5,374.2 289.2,367.7 295.9,361.7 302.6,356.2 309.2,350.9 315.9,346.1 322.6,341.5 329.2,337.2 335.9,333.1 342.6,329.3 349.3,325.7 355.9,322.3 362.6,319.1 369.3,316.0 375.9,313.1 382.6,310.3 389.3,307.6 395.9,305.1 402.6,302.7 409.3,300.4 416.0,298.2 422.6,296.1 429.3,294.1 436.0,292.2 442.6,290.3 449.3,288.5 456.0,286.8 462.7,285.2 469.3,283.6 476.0,282.1 482.7,280.6 489.3,279.2 496.0,277.8 502.7,276.5 509.4,275.2 516.0,274.0 522.7,272.8 529.4,271.7 536.0,270.6 542.7,269.5 549.4,268.4 556.1,267.4 562.7,266.5 569.4,265.5 576.1,264.6 582.7,263.7 589.4,262.8 596.1,262.0 602.8,261.2 609.4,260.4 616.1,259.6 622.8,258.9 629.4,258.1 636.1,257.4 642.8,256.7 649.4,256.1 656.1,255.4 662.8,254.8 669.5,254.2 676.1,253.6 682.8,253.0 689.5,252.4 696.1,251.9 702.8,251.3 709.5,250.8 716.2,250.3 722.8,249.8 729.5,249.3 736.2,248.8 742.8,248.3 749.5,247.9 756.2,247.4 762.9,247.0 769.5,246.6 776.2,246.1 782.9,245.7 789.5,245.3 796.2,245.0 802.9,244.6 809.6,244.2 816.2,243.8 822.9,243.5 829.6,243.1 836.2,242.8 842.9,242.5 849.6,242.2 856.3,241.8 862.9,241.5 869.6,241.2 876.3,240.9 882.9,240.6 889.6,240.4 896.3,240.1 902.9,239.8 909.6,239.5 916.3,239.3 923.0,239.0 929.6,238.8 936.3,238.5 943.0,238.3 949.6,238.1 956.3,237.8 963.0,237.6 969.7,237.4 976.3,237.2 983.0,237.0 989.7,236.8 996.3,236.6 1003.0,236.4 1009.7,236.2 1016.4,236.0 1023.0,235.8 1029.7,235.6 1036.4,235.4 1043.0,235.3 1049.7,235.1 1056.4,234.9 1063.1,234.8 1069.7,234.6 1076.4,234.5 1083.1,234.3 1089.7,234.2 1096.4,234.0 1103.1,233.9 1109.8,233.7 1116.4,233.6 1123.1,233.5 1129.8,233.3 1136.4,233.2 1143.1,233.1 1149.8,232.9 1156.4,232.8 1163.1,232.7 1169.8,232.6 1176.5,232.5 1183.1,232.4 1189.8,232.2 1196.5,232.1 1203.1,232.0 1209.8,231.9 1216.5,231.8 1223.2,231.7 1229.8,231.6 1236.5,231.5 1243.2,231.5 1249.8,231.4 1256.5,231.3 1263.2,231.2 1269.9,231.1 1276.5,231.0 1283.2,230.9" stroke="#000080"/>
<path d="M153.5,911.5 153.7,906.0 154.0,900.9 154.2,896.1 154.5,891.4 154.7,886.9 154.9,882.4 155.2,878.1 155.4,873.8 155.7,869.6 155.9,865.5 156.1,861.5 156.4,857.5 156.6,853.6 156.9,849.8 157.1,846.0 157.4,842.2 157.6,838.5 157.8,834.9 158.1,831.3 158.3,827.8 158.6,824.3 158.8,820.9 159.0,817.5 159.3,814.1 159.9,806.1 160.4,798.4 161.0,790.9 161.6,783.6 162.2,776.5 162.8,769.5 163.4,762.8 164.0,756.2 164.5,749.8 165.1,743.5 165.7,737.4 166.3,731.5 166.9,725.6 167.5,719.9 168.1,714.4 168.6,708.9 169.2,703.6 169.8,698.4 170.4,693.3 171.0,688.3 171.6,683.4 172.2,678.6 172.7,673.8 173.3,669.2 173.9,664.7 174.5,660.3 175.1,655.9 175.7,651.7 176.3,647.5 176.9,643.3 177.6,639.3 178.3,635.4 178.9,631.5 179.6,627.7 180.3,623.9 181.0,620.2 181.7,616.6 182.3,613.1 183.0,609.6 183.7,606.1 184.4,602.7 185.1,599.4 185.8,596.1 186.4,592.9 187.1,589.7 187.8,586.6 188.5,583.5 189.2,580.5 189.8,577.5 190.5,574.6 191.2,571.7 191.9,568.9 192.6,566.1 193.3,563.3 193.9,560.6 194.6,557.9 195.3,555.2 196.0,552.6 196.7,550.1 197.4,547.5 198.0,545.0 198.7,542.6 199.4,540.1 200.1,537.7 200.8,535.3 201.5,533.0 202.2,530.7 202.8,528.4 203.5,526.2 204.2,524.0 204.9,521.8 205.6,519.6 206.3,517.5 207.0,515.4 207.6,513.3 208.3,511.2 208.9,509.2 209.6,507.1 210.2,505.1 210.8,503.2 211.5,501.2 212.1,499.3 212.7,497.4 213.4,495.5 214.0,493.6 214.6,491.8 215.3,489.9 215.9,488.1 216.6,486.2 223.1,470.4 229.8,456.1 236.6,443.1 243.4,431.3 250.2,420.5 257.0,410.5 263.8,401.4 270.7,392.9 277.5,385.1 284.3,377.8 291.2,371.0 298.0,364.7 304.8,358.7 311.7,353.2 318.5,347.9 325.3,343.0 332.1,338.4 338.9,334.0 345.8,329.9 352.6,326.0 359.4,322.3 366.2,318.8 372.9,315.5 379.7,312.3 386.5,309.3 393.3,306.4 400.1,303.7 406.8,301.1 413.6,298.6 420.3,296.2 427.1,293.9 433.9,291.7 440.6,289.6 447.3,287.6 454.1,285.7 460.8,283.8 467.6,282.0 474.3,280.3 481.0,278.7 487.8,277.3 494.6,275.9 501.3,274.6 508.1,273.4 514.8,272.2 521.6,271.0 528.3,269.9 535.0,268.9 541.8,267.8 548.5,266.8 555.2,265.9 561.9,265.0 568.6,264.1 575.4,263.2 582.1,262.4 588.8,261.6 595.5,260.8 602.2,260.1 608.9,259.4 615.6,258.7 622.3,258.1 629.0,257.5 635.7,256.8 642.4,256.3 649.1,255.7 655.8,255.2 662.5,254.6 669.2,253.9 675.9,253.3 682.5,252.7 689.2,252.1 695.9,251.5 702.6,251.0 709.2,250.4 715.9,249.9 722.6,249.4 729.3,248.9 736.0,248.4 742.6,247.9 749.3,247.5 756.0,247.0 762.7,246.6 769.3,246.2 776.0,245.8 782.7,245.4 789.4,245.0 796.0,244.6 802.7,244.3 809.4,243.9 816.1,243.6 822.7,243.2 829.4,242.9 836.1,242.6 842.8,242.3 849.4,242.0 856.1,241.7 862.8,241.4 869.5,241.1 876.1,240.9 882.8,240.6 889.5,240.4 896.2,240.1 902.8,239.9 909.5,239.6 916.2,239.4 922.9,239.2 929.5,239.0 936.2,238.8 942.9,238.6 949.6,238.4 956.2,238.2 962.9,238.0 969.6,237.9 976.3,237.7 982.9,237.5 989.6,237.4 996.3,237.2 1002.9,237.1 1009.6,236.9 1016.3,236.8 1023.0,236.6 1029.6,236.5 1036.3,236.4 1043.0,236.3 1049.7,236.1 1056.3,236.0 1063.0,235.9 1069.7,235.8 1076.4,235.7 1083.0,235.6 1089.7,235.5 1096.4,235.4 1103.0,235.3 1109.7,235.3 1116.4,235.2 1123.1,235.1 1129.7,235.0 1136.4,235.0 1143.1,234.9 1149.8,234.8 1156.4,234.8 1163.1,234.7 1169.8,234.7 1176.4,234.6 1183.1,234.6 1189.8,234.5 1196.5,234.5 1203.1,234.4 1209.8,234.4 1216.5,234.4 1223.1,234.3 1229.8,234.3 1236.5,234.3 1243.2,234.2 1249.8,234.2 1256.5,234.2 1263.2,234.2 1269.9,234.2 1276.5,234.2 1283.2,234.2" stroke="#000080"/>
<path d="M153.5,911.5 153.8,906.0 154.1,901.0 154.5,896.1 154.8,891.5 155.1,886.9 155.4,882.5 155.8,878.1 156.1,873.9 156.4,869.7 156.7,865.6 157.1,861.6 157.4,857.6 157.7,853.7 158.0,849.8 158.4,846.1 158.7,842.3 159.0,838.6 159.3,835.0 159.7,831.5 160.0,827.9 160.3,824.4 160.6,821.0 161.0,817.6 161.3,814.3 162.1,806.3 162.9,798.6 163.7,791.1 164.4,783.8 165.1,776.7 165.8,769.8 166.5,763.1 167.2,756.6 167.9,750.2 168.6,743.9 169.3,737.8 170.0,731.9 170.7,726.1 171.4,720.4 172.1,714.9 172.8,709.4 173.5,704.1 174.1,699.0 174.8,693.9 175.5,688.9 176.2,684.0 176.9,679.3 177.6,674.6 178.3,670.0 179.0,665.5 179.7,661.1 180.4,656.8 181.1,652.6 181.8,648.4 182.5,644.3 183.2,640.3 183.9,636.4 184.6,632.5 185.3,628.7 186.0,625.0 186.7,621.3 187.4,617.7 188.1,614.2 188.8,610.7 189.5,607.3 190.1,603.9 190.8,600.6 191.5,597.4 192.2,594.2 192.8,591.0 193.5,587.9 194.2,584.9 194.9,581.9 195.5,578.9 196.2,576.0 196.9,573.1 197.6,570.3 198.2,567.5 198.9,564.7 199.6,562.0 200.2,559.4 200.9,556.7 201.6,554.2 202.3,551.6 202.9,549.1 203.6,546.6 204.3,544.1 205.0,541.7 205.6,539.4 206.3,537.0 207.0,534.7 207.7,532.4 208.3,530.1 209.0,527.9 209.7,525.7 210.4,523.5 211.0,521.4 211.7,519.3 212.4,517.2 213.1,515.1 213.7,513.1 214.4,511.1 215.1,509.1 215.8,507.1 216.4,505.2 217.1,503.3 217.8,501.4 218.4,499.5 219.1,497.7 219.8,495.8 220.5,494.0 221.1,492.3 221.8,490.5 222.5,488.8 229.2,473.1 235.8,459.1 242.5,446.3 249.2,434.8 255.9,424.2 262.5,414.5 269.2,405.5 275.9,397.3 282.5,389.6 289.2,382.5 295.9,375.9 302.6,369.7 309.2,364.0 315.9,358.5 322.6,353.4 329.2,348.7 335.9,344.1 342.6,339.9 349.3,335.9 355.9,332.0 362.6,328.4 369.3,325.0 375.9,321.7 382.6,318.6 389.3,315.7 395.9,312.9 402.6,310.2 409.3,307.6 416.0,305.2 422.6,302.8 429.3,300.6 436.0,298.4 442.6,296.3 449.3,294.4 456.0,292.5 462.7,290.6 469.3,288.9 476.0,287.2 482.7,285.6 489.3,284.0 496.0,282.5 502.7,281.0 509.4,279.6 516.0,278.3 522.7,277.0 529.4,275.7 536.0,274.5 542.7,273.3 549.4,272.2 556.1,271.1 562.7,270.0 569.4,269.0 576.1,268.0 582.7,267.0 589.4,266.1 596.1,265.2 602.8,264.3 609.4,263.5 616.1,262.7 622.8,261.9 629.4,261.1 636.1,260.3 642.8,259.6 649.4,258.9 656.1,258.2 662.8,257.6 669.5,256.9 676.1,256.3 682.8,255.7 689.5,255.1 696.1,254.5 702.8,254.0 709.5,253.4 716.2,252.9 722.8,252.4 729.5,251.9 736.2,251.4 742.8,250.9 749.5,250.5 756.2,250.0 762.9,249.6 769.5,249.2 776.2,248.8 782.9,248.4 789.5,248.0 796.2,247.6 802.9,247.3 809.6,246.9 816.2,246.6 822.9,246.2 829.6,245.9 836.2,245.6 842.9,245.3 849.6,245.0 856.3,244.7 862.9,244.4 869.6,244.1 876.3,243.9 882.9,243.6 889.6,243.4 896.3,243.1 902.9,242.9 909.6,242.6 916.3,242.4 923.0,242.2 929.6,242.0 936.3,241.8 943.0,241.6 949.6,241.4 956.3,241.2 963.0,241.0 969.7,240.9 976.3,240.7 983.0,240.5 989.7,240.4 996.3,240.2 1003.0,240.1 1009.7,239.9 1016.4,239.8 1023.0,239.6 1029.7,239.5 1036.4,239.4 1043.0,239.3 1049.7,239.1 1056.4,239.0 1063.1,238.9 1069.7,238.8 1076.4,238.7 1083.1,238.6 1089.7,238.5 1096.4,238.4 1103.1,238.3 1109.8,238.3 1116.4,238.2 1123.1,238.1 1129.8,238.0 1136.4,238.0 1143.1,237.9 1149.8,237.8 1156.4,237.8 1163.1,237.7 1169.8,237.7 1176.5,237.6 1183.1,237.6 1189.8,237.5 1196.5,237.5 1203.1,237.4 1209.8,237.4 1216.5,237.4 1223.2,237.3 1229.8,237.3 1236.5,237.3 1243.2,237.2 1249.8,237.2 1256.5,237.2 1263.2,237.2 1269.9,237.2 1276.5,237.2 1283.2,237.2" stroke="#000080"/>
</g>
<g>
<path d="M201.05 452.70L204.22 461.93L213.98 462.10L206.19 467.97L209.04 477.30L201.05 471.70L193.06 477.30L195.91 467.97L188.12 462.10L197.88 461.93Z" fill="#000"/>
<path d="M248.10 396.75L251.27 405.98L261.03 406.15L253.24 412.02L256.09 421.35L248.10 415.75L240.11 421.35L242.96 412.02L235.17 406.15L244.93 405.98Z" fill="#000"/>
<path d="M295.15 362.55L298.32 371.78L308.08 371.95L300.29 377.82L303.14 387.15L295.15 381.55L287.16 387.15L290.01 377.82L282.22 371.95L291.98 371.78Z" fill="#000"/>
<path d="M342.20 337.15L345.37 346.38L355.13 346.55L347.34 352.42L350.19 361.75L342.20 356.15L334.21 361.75L337.06 352.42L329.27 346.55L339.03 346.38Z" fill="#000"/>
<path d="M389.25 317.10L392.42 326.33L402.18 326.50L394.39 332.37L397.24 341.70L389.25 336.10L381.26 341.70L384.11 332.37L376.32 326.50L386.08 326.33Z" fill="#000"/>
<path d="M436.30 297.70L439.47 306.93L449.23 307.10L441.44 312.97L444.29 322.30L436.30 316.70L428.31 322.30L431.16 312.97L423.37 307.10L433.13 306.93Z" fill="#000"/>
<path d="M483.35 283.15L486.52 292.38L496.28 292.55L488.49 298.42L491.34 307.75L483.35 302.15L475.36 307.75L478.21 298.42L470.42 292.55L480.18 292.38Z" fill="#000"/>
<path d="M530.40 268.05L533.57 277.28L543.33 277.45L535.54 283.32L538.39 292.65L530.40 287.05L522.41 292.65L525.26 283.32L517.47 277.45L527.23 277.28Z" fill="#000"/>
<path d="M577.45 256.35L580.62 265.58L590.38 265.75L582.59 271.62L585.44 280.95L577.45 275.35L569.46 280.95L572.31 271.62L564.52 265.75L574.28 265.58Z" fill="#000"/>
<path d="M624.50 247.95L627.67 257.18L637.43 257.35L629.64 263.22L632.49 272.55L624.50 266.95L616.51 272.55L619.36 263.22L611.57 257.35L621.33 257.18Z" fill="#000"/>
<path d="M671.55 242.10L674.72 251.33L684.48 251.50L676.69 257.37L679.54 266.70L671.55 261.10L663.56 266.70L666.41 257.37L658.62 251.50L668.38 251.33Z" fill="#000"/>
<path d="M718.60 243.60L721.77 252.83L731.53 253.00L723.74 258.87L726.59 268.20L718.60 262.60L710.61 268.20L713.46 258.87L705.67 253.00L715.43 252.83Z" fill="#000"/>
<path d="M765.65 238.40L768.82 247.63L778.58 247.80L770.79 253.67L773.64 263.00L765.65 257.40L757.66 263.00L760.51 253.67L752.72 247.80L762.48 247.63Z" fill="#000"/>
<path d="M812.70 224.40L815.87 233.63L825.63 233.80L817.84 239.67L820.69 249.00L812.70 243.40L804.71 249.00L807.56 239.67L799.77 233.80L809.53 233.63Z" fill="#000"/>
<path d="M859.75 221.70L862.92 230.93L872.68 231.10L864.89 236.97L867.74 246.30L859.75 240.70L851.76 246.30L854.61 236.97L846.82 231.10L856.58 230.93Z" fill="#000"/>
<path d="M906.80 219.65L909.97 228.88L919.73 229.05L911.94 234.92L914.79 244.25L906.80 238.65L898.81 244.25L901.66 234.92L893.87 229.05L903.63 228.88Z" fill="#000"/>
<path d="M953.85 212.90L957.02 222.13L966.78 222.30L958.99 228.17L961.84 237.50L953.85 231.90L945.86 237.50L948.71 228.17L940.92 222.30L950.68 222.13Z" fill="#000"/>
<path d="M1000.90 212.90L1004.07 222.13L1013.83 222.30L1006.04 228.17L1008.89 237.50L1000.90 231.90L992.91 237.50L995.76 228.17L987.97 222.30L997.73 222.13Z" fill="#000"/>
<path d="M1047.95 212.90L1051.12 222.13L1060.88 222.30L1053.09 228.17L1055.94 237.50L1047.95 231.90L1039.96 237.50L1042.81 228.17L1035.02 222.30L1044.78 222.13Z" fill="#000"/>
<path d="M1095.00 209.90L1098.17 219.13L1107.93 219.30L1100.14 225.17L1102.99 234.50L1095.00 228.90L1087.01 234.50L1089.86 225.17L1082.07 219.30L1091.83 219.13Z" fill="#000"/>
<path d="M1142.05 209.90L1145.22 219.13L1154.98 219.30L1147.19 225.17L1150.04 234.50L1142.05 228.90L1134.06 234.50L1136.91 225.17L1129.12 219.30L1138.88 219.13Z" fill="#000"/>
<path d="M1189.10 209.90L1192.27 219.13L1202.03 219.30L1194.24 225.17L1197.09 234.50L1189.10 228.90L1181.11 234.50L1183.96 225.17L1176.17 219.30L1185.93 219.13Z" fill="#000"/>
<path d="M1236.15 210.35L1239.32 219.58L1249.08 219.75L1241.29 225.62L1244.14 234.95L1236.15 229.35L1228.16 234.95L1231.01 225.62L1223.22 219.75L1232.98 219.58Z" fill="#000"/>
<path d="M1283.20 210.60L1286.37 219.83L1296.13 220.00L1288.34 225.87L1291.19 235.20L1283.20 229.60L1275.21 235.20L1278.06 225.87L1270.27 220.00L1280.03 219.83Z" fill="#000"/>
<circle cx="201.1" cy="466.0" r="13.4" fill="#000"/>
<circle cx="248.1" cy="410.0" r="13.4" fill="#000"/>
<circle cx="295.1" cy="375.9" r="13.4" fill="#000"/>
<circle cx="342.2" cy="350.4" r="13.4" fill="#000"/>
<circle cx="389.2" cy="330.4" r="13.4" fill="#000"/>
<circle cx="436.3" cy="311.0" r="13.4" fill="#000"/>
<circle cx="483.3" cy="296.4" r="13.4" fill="#000"/>
<circle cx="530.4" cy="281.4" r="13.4" fill="#000"/>
<circle cx="577.5" cy="269.6" r="13.4" fill="#000"/>
<circle cx="624.5" cy="261.2" r="13.4" fill="#000"/>
<circle cx="671.5" cy="255.4" r="13.4" fill="#000"/>
<circle cx="718.6" cy="246.8" r="13.4" fill="#000"/>
<circle cx="765.6" cy="241.6" r="13.4" fill="#000"/>
<circle cx="812.7" cy="237.7" r="13.4" fill="#000"/>
<circle cx="859.8" cy="235.0" r="13.4" fill="#000"/>
<circle cx="906.8" cy="232.9" r="13.4" fill="#000"/>
<circle cx="953.8" cy="226.2" r="13.4" fill="#000"/>
<circle cx="1000.9" cy="226.2" r="13.4" fill="#000"/>
<circle cx="1047.9" cy="226.2" r="13.4" fill="#000"/>
<circle cx="1095.0" cy="223.2" r="13.4" fill="#000"/>
<circle cx="1142.0" cy="223.2" r="13.4" fill="#000"/>
<circle cx="1189.1" cy="223.2" r="13.4" fill="#000"/>
<circle cx="1236.1" cy="223.6" r="13.4" fill="#000"/>
<circle cx="1283.2" cy="223.9" r="13.4" fill="#000"/>
<path d="M201.1 440.6L213.0 452.5L201.1 464.4L189.2 452.5Z" fill="#a00000" stroke="#000" stroke-width="3"/>
<path d="M248.1 385.8L260.0 397.7L248.1 409.6L236.2 397.7Z" fill="#a00000" stroke="#000" stroke-width="3"/>
<path d="M295.1 351.5L307.0 363.4L295.1 375.3L283.2 363.4Z" fill="#a00000" stroke="#000" stroke-width="3"/>
<path d="M342.2 324.1L354.1 336.0L342.2 347.9L330.3 336.0Z" fill="#a00000" stroke="#000" stroke-width="3"/>
<path d="M389.2 302.1L401.1 314.0L389.2 325.9L377.4 314.0Z" fill="#a00000" stroke="#000" stroke-width="3"/>
<path d="M436.3 293.5L448.2 305.4L436.3 317.3L424.4 305.4Z" fill="#a00000" stroke="#000" stroke-width="3"/>
<path d="M483.3 280.1L495.2 291.9L483.3 303.8L471.4 291.9Z" fill="#a00000" stroke="#000" stroke-width="3"/>
<path d="M530.4 266.1L542.3 278.0L530.4 289.9L518.5 278.0Z" fill="#a00000" stroke="#000" stroke-width="3"/>
<path d="M577.5 254.5L589.4 266.4L577.5 278.3L565.6 266.4Z" fill="#a00000" stroke="#000" stroke-width="3"/>
<path d="M624.5 247.1L636.4 259.0L624.5 270.9L612.6 259.0Z" fill="#a00000" stroke="#000" stroke-width="3"/>
<path d="M671.5 241.3L683.4 253.2L671.5 265.1L659.6 253.2Z" fill="#a00000" stroke="#000" stroke-width="3"/>
<path d="M718.6 233.8L730.5 245.7L718.6 257.6L706.7 245.7Z" fill="#a00000" stroke="#000" stroke-width="3"/>
<path d="M765.6 228.3L777.5 240.2L765.6 252.1L753.8 240.2Z" fill="#a00000" stroke="#000" stroke-width="3"/>
<path d="M812.7 223.5L824.6 235.4L812.7 247.3L800.8 235.4Z" fill="#a00000" stroke="#000" stroke-width="3"/>
<path d="M859.8 221.9L871.6 233.8L859.8 245.7L847.9 233.8Z" fill="#a00000" stroke="#000" stroke-width="3"/>
<path d="M906.8 218.8L918.7 230.7L906.8 242.6L894.9 230.7Z" fill="#a00000" stroke="#000" stroke-width="3"/>
<path d="M953.8 212.6L965.7 224.5L953.8 236.4L941.9 224.5Z" fill="#a00000" stroke="#000" stroke-width="3"/>
<path d="M1000.9 212.5L1012.8 224.4L1000.9 236.3L989.0 224.4Z" fill="#a00000" stroke="#000" stroke-width="3"/>
<path d="M1047.9 212.5L1059.8 224.4L1047.9 236.3L1036.0 224.4Z" fill="#a00000" stroke="#000" stroke-width="3"/>
<path d="M1095.0 208.3L1106.9 220.2L1095.0 232.1L1083.1 220.2Z" fill="#a00000" stroke="#000" stroke-width="3"/>
<path d="M1142.0 208.3L1154.0 220.2L1142.0 232.1L1130.1 220.2Z" fill="#a00000" stroke="#000" stroke-width="3"/>
<path d="M1189.1 208.3L1201.0 220.2L1189.1 232.1L1177.2 220.2Z" fill="#a00000" stroke="#000" stroke-width="3"/>
<path d="M1236.1 208.5L1248.0 220.4L1236.1 232.3L1224.2 220.4Z" fill="#a00000" stroke="#000" stroke-width="3"/>
<path d="M1283.2 208.9L1295.1 220.8L1283.2 232.7L1271.3 220.8Z" fill="#a00000" stroke="#000" stroke-width="3"/>
<path d="M188.6 427.0L213.6 427.0L201.1 451.0Z" fill="#a00000" stroke="#000" stroke-width="3" stroke-linejoin="round"/>
<path d="M235.6 378.2L260.6 378.2L248.1 402.2Z" fill="#a00000" stroke="#000" stroke-width="3" stroke-linejoin="round"/>
<path d="M282.6 345.0L307.6 345.0L295.1 369.0Z" fill="#a00000" stroke="#000" stroke-width="3" stroke-linejoin="round"/>
<path d="M329.7 321.2L354.7 321.2L342.2 345.2Z" fill="#a00000" stroke="#000" stroke-width="3" stroke-linejoin="round"/>
<path d="M376.8 303.0L401.8 303.0L389.2 327.0Z" fill="#a00000" stroke="#000" stroke-width="3" stroke-linejoin="round"/>
<path d="M423.8 285.0L448.8 285.0L436.3 309.0Z" fill="#a00000" stroke="#000" stroke-width="3" stroke-linejoin="round"/>
<path d="M470.8 273.2L495.8 273.2L483.3 297.2Z" fill="#a00000" stroke="#000" stroke-width="3" stroke-linejoin="round"/>
<path d="M517.9 260.9L542.9 260.9L530.4 284.9Z" fill="#a00000" stroke="#000" stroke-width="3" stroke-linejoin="round"/>
<path d="M565.0 249.6L590.0 249.6L577.5 273.6Z" fill="#a00000" stroke="#000" stroke-width="3" stroke-linejoin="round"/>
<path d="M612.0 243.6L637.0 243.6L624.5 267.6Z" fill="#a00000" stroke="#000" stroke-width="3" stroke-linejoin="round"/>
<path d="M659.0 237.8L684.0 237.8L671.5 261.8Z" fill="#a00000" stroke="#000" stroke-width="3" stroke-linejoin="round"/>
<path d="M706.1 234.8L731.1 234.8L718.6 258.9Z" fill="#a00000" stroke="#000" stroke-width="3" stroke-linejoin="round"/>
<path d="M753.1 229.6L778.1 229.6L765.6 253.6Z" fill="#a00000" stroke="#000" stroke-width="3" stroke-linejoin="round"/>
<path d="M800.2 225.7L825.2 225.7L812.7 249.7Z" fill="#a00000" stroke="#000" stroke-width="3" stroke-linejoin="round"/>
<path d="M847.2 231.0L872.2 231.0L859.8 255.0Z" fill="#a00000" stroke="#000" stroke-width="3" stroke-linejoin="round"/>
<path d="M894.3 220.9L919.3 220.9L906.8 244.9Z" fill="#a00000" stroke="#000" stroke-width="3" stroke-linejoin="round"/>
<path d="M941.3 226.0L966.3 226.0L953.8 250.0Z" fill="#a00000" stroke="#000" stroke-width="3" stroke-linejoin="round"/>
<path d="M988.4 225.8L1013.4 225.8L1000.9 249.8Z" fill="#a00000" stroke="#000" stroke-width="3" stroke-linejoin="round"/>
<path d="M1035.4 214.2L1060.4 214.2L1047.9 238.2Z" fill="#a00000" stroke="#000" stroke-width="3" stroke-linejoin="round"/>
<path d="M1082.5 211.2L1107.5 211.2L1095.0 235.2Z" fill="#a00000" stroke="#000" stroke-width="3" stroke-linejoin="round"/>
<path d="M1129.5 211.2L1154.5 211.2L1142.0 235.2Z" fill="#a00000" stroke="#000" stroke-width="3" stroke-linejoin="round"/>
<path d="M1176.6 211.2L1201.6 211.2L1189.1 235.2Z" fill="#a00000" stroke="#000" stroke-width="3" stroke-linejoin="round"/>
<path d="M1223.6 211.6L1248.6 211.6L1236.1 235.6Z" fill="#a00000" stroke="#000" stroke-width="3" stroke-linejoin="round"/>
<path d="M1270.7 211.9L1295.7 211.9L1283.2 235.9Z" fill="#a00000" stroke="#000" stroke-width="3" stroke-linejoin="round"/>
<path d="M201.1 434.6L213.6 458.6L188.6 458.6Z" fill="#a00000" stroke="#000" stroke-width="3" stroke-linejoin="round"/>
<path d="M248.1 382.2L260.6 406.2L235.6 406.2Z" fill="#a00000" stroke="#000" stroke-width="3" stroke-linejoin="round"/>
<path d="M295.1 348.4L307.6 372.4L282.6 372.4Z" fill="#a00000" stroke="#000" stroke-width="3" stroke-linejoin="round"/>
<path d="M342.2 323.3L354.7 347.3L329.7 347.3Z" fill="#a00000" stroke="#000" stroke-width="3" stroke-linejoin="round"/>
<path d="M389.2 305.9L401.8 329.9L376.8 329.9Z" fill="#a00000" stroke="#000" stroke-width="3" stroke-linejoin="round"/>
<path d="M436.3 289.2L448.8 313.2L423.8 313.2Z" fill="#a00000" stroke="#000" stroke-width="3" stroke-linejoin="round"/>
<path d="M483.3 275.4L495.8 299.4L470.8 299.4Z" fill="#a00000" stroke="#000" stroke-width="3" stroke-linejoin="round"/>
<path d="M530.4 262.6L542.9 286.6L517.9 286.6Z" fill="#a00000" stroke="#000" stroke-width="3" stroke-linejoin="round"/>
<path d="M577.5 251.2L590.0 275.2L565.0 275.2Z" fill="#a00000" stroke="#000" stroke-width="3" stroke-linejoin="round"/>
<path d="M624.5 244.7L637.0 268.7L612.0 268.7Z" fill="#a00000" stroke="#000" stroke-width="3" stroke-linejoin="round"/>
<path d="M671.5 238.9L684.0 262.9L659.0 262.9Z" fill="#a00000" stroke="#000" stroke-width="3" stroke-linejoin="round"/>
<path d="M718.6 236.0L731.1 260.0L706.1 260.0Z" fill="#a00000" stroke="#000" stroke-width="3" stroke-linejoin="round"/>
<path d="M765.6 230.9L778.1 254.9L753.1 254.9Z" fill="#a00000" stroke="#000" stroke-width="3" stroke-linejoin="round"/>
<path d="M812.7 229.1L825.2 253.1L800.2 253.1Z" fill="#a00000" stroke="#000" stroke-width="3" stroke-linejoin="round"/>
<path d="M859.8 224.8L872.2 248.8L847.2 248.8Z" fill="#a00000" stroke="#000" stroke-width="3" stroke-linejoin="round"/>
<path d="M906.8 227.1L919.3 251.1L894.3 251.1Z" fill="#a00000" stroke="#000" stroke-width="3" stroke-linejoin="round"/>
<path d="M953.8 216.8L966.3 240.8L941.3 240.8Z" fill="#a00000" stroke="#000" stroke-width="3" stroke-linejoin="round"/>
<path d="M1000.9 217.0L1013.4 241.0L988.4 241.0Z" fill="#a00000" stroke="#000" stroke-width="3" stroke-linejoin="round"/>
<path d="M1047.9 219.3L1060.4 243.3L1035.4 243.3Z" fill="#a00000" stroke="#000" stroke-width="3" stroke-linejoin="round"/>
<path d="M1095.0 219.3L1107.5 243.3L1082.5 243.3Z" fill="#a00000" stroke="#000" stroke-width="3" stroke-linejoin="round"/>
<path d="M1142.0 219.3L1154.5 243.3L1129.5 243.3Z" fill="#a00000" stroke="#000" stroke-width="3" stroke-linejoin="round"/>
<path d="M1189.1 219.3L1201.6 243.3L1176.6 243.3Z" fill="#a00000" stroke="#000" stroke-width="3" stroke-linejoin="round"/>
<path d="M1236.1 220.2L1248.6 244.2L1223.6 244.2Z" fill="#a00000" stroke="#000" stroke-width="3" stroke-linejoin="round"/>
<path d="M1283.2 220.2L1295.7 244.2L1270.7 244.2Z" fill="#a00000" stroke="#000" stroke-width="3" stroke-linejoin="round"/>
<rect x="188.6" y="440.0" width="25.0" height="25.0" fill="#a00000" stroke="#000" stroke-width="3"/>
<rect x="235.6" y="385.2" width="25.0" height="25.0" fill="#a00000" stroke="#000" stroke-width="3"/>
<rect x="282.6" y="350.9" width="25.0" height="25.0" fill="#a00000" stroke="#000" stroke-width="3"/>
<rect x="329.7" y="323.5" width="25.0" height="25.0" fill="#a00000" stroke="#000" stroke-width="3"/>
<rect x="376.8" y="301.5" width="25.0" height="25.0" fill="#a00000" stroke="#000" stroke-width="3"/>
<rect x="423.8" y="284.5" width="25.0" height="25.0" fill="#a00000" stroke="#000" stroke-width="3"/>
<rect x="470.8" y="272.7" width="25.0" height="25.0" fill="#a00000" stroke="#000" stroke-width="3"/>
<rect x="517.9" y="260.4" width="25.0" height="25.0" fill="#a00000" stroke="#000" stroke-width="3"/>
<rect x="565.0" y="249.1" width="25.0" height="25.0" fill="#a00000" stroke="#000" stroke-width="3"/>
<rect x="612.0" y="243.1" width="25.0" height="25.0" fill="#a00000" stroke="#000" stroke-width="3"/>
<rect x="659.0" y="237.3" width="25.0" height="25.0" fill="#a00000" stroke="#000" stroke-width="3"/>
<rect x="706.1" y="237.2" width="25.0" height="25.0" fill="#a00000" stroke="#000" stroke-width="3"/>
<rect x="753.1" y="232.5" width="25.0" height="25.0" fill="#a00000" stroke="#000" stroke-width="3"/>
<rect x="800.2" y="230.9" width="25.0" height="25.0" fill="#a00000" stroke="#000" stroke-width="3"/>
<rect x="847.2" y="224.6" width="25.0" height="25.0" fill="#a00000" stroke="#000" stroke-width="3"/>
<rect x="894.3" y="221.3" width="25.0" height="25.0" fill="#a00000" stroke="#000" stroke-width="3"/>
<rect x="941.3" y="216.7" width="25.0" height="25.0" fill="#a00000" stroke="#000" stroke-width="3"/>
<rect x="988.4" y="216.9" width="25.0" height="25.0" fill="#a00000" stroke="#000" stroke-width="3"/>
<rect x="1035.4" y="213.5" width="25.0" height="25.0" fill="#a00000" stroke="#000" stroke-width="3"/>
<rect x="1082.5" y="213.5" width="25.0" height="25.0" fill="#a00000" stroke="#000" stroke-width="3"/>
<rect x="1129.5" y="213.5" width="25.0" height="25.0" fill="#a00000" stroke="#000" stroke-width="3"/>
<rect x="1176.6" y="213.5" width="25.0" height="25.0" fill="#a00000" stroke="#000" stroke-width="3"/>
<rect x="1223.6" y="214.4" width="25.0" height="25.0" fill="#a00000" stroke="#000" stroke-width="3"/>
<rect x="1270.7" y="214.4" width="25.0" height="25.0" fill="#a00000" stroke="#000" stroke-width="3"/>
<circle cx="201.1" cy="460.6" r="12.5" fill="#a00000" stroke="#000" stroke-width="3"/>
<circle cx="248.1" cy="405.3" r="12.5" fill="#a00000" stroke="#000" stroke-width="3"/>
<circle cx="295.1" cy="368.7" r="12.5" fill="#a00000" stroke="#000" stroke-width="3"/>
<circle cx="342.2" cy="341.1" r="12.5" fill="#a00000" stroke="#000" stroke-width="3"/>
<circle cx="389.2" cy="320.2" r="12.5" fill="#a00000" stroke="#000" stroke-width="3"/>
<circle cx="436.3" cy="302.0" r="12.5" fill="#a00000" stroke="#000" stroke-width="3"/>
<circle cx="483.3" cy="285.2" r="12.5" fill="#a00000" stroke="#000" stroke-width="3"/>
<circle cx="530.4" cy="272.9" r="12.5" fill="#a00000" stroke="#000" stroke-width="3"/>
<circle cx="577.5" cy="261.6" r="12.5" fill="#a00000" stroke="#000" stroke-width="3"/>
<circle cx="624.5" cy="255.6" r="12.5" fill="#a00000" stroke="#000" stroke-width="3"/>
<circle cx="671.5" cy="249.8" r="12.5" fill="#a00000" stroke="#000" stroke-width="3"/>
<circle cx="718.6" cy="244.9" r="12.5" fill="#a00000" stroke="#000" stroke-width="3"/>
<circle cx="765.6" cy="239.1" r="12.5" fill="#a00000" stroke="#000" stroke-width="3"/>
<circle cx="812.7" cy="233.7" r="12.5" fill="#a00000" stroke="#000" stroke-width="3"/>
<circle cx="859.8" cy="232.9" r="12.5" fill="#a00000" stroke="#000" stroke-width="3"/>
<circle cx="906.8" cy="229.0" r="12.5" fill="#a00000" stroke="#000" stroke-width="3"/>
<circle cx="953.8" cy="223.2" r="12.5" fill="#a00000" stroke="#000" stroke-width="3"/>
<circle cx="1000.9" cy="223.0" r="12.5" fill="#a00000" stroke="#000" stroke-width="3"/>
<circle cx="1047.9" cy="223.0" r="12.5" fill="#a00000" stroke="#000" stroke-width="3"/>
<circle cx="1095.0" cy="217.9" r="12.5" fill="#a00000" stroke="#000" stroke-width="3"/>
<circle cx="1142.0" cy="217.9" r="12.5" fill="#a00000" stroke="#000" stroke-width="3"/>
<circle cx="1189.1" cy="217.9" r="12.5" fill="#a00000" stroke="#000" stroke-width="3"/>
<circle cx="1236.1" cy="218.0" r="12.5" fill="#a00000" stroke="#000" stroke-width="3"/>
<circle cx="1283.2" cy="218.4" r="12.5" fill="#a00000" stroke="#000" stroke-width="3"/>
<path d="M201.1 457.8L214.7 471.4L201.1 485.0L187.5 471.4Z" fill="#a00000"/>
<path d="M248.1 400.4L261.7 414.0L248.1 427.6L234.5 414.0Z" fill="#a00000"/>
<path d="M295.1 366.0L308.8 379.6L295.1 393.2L281.5 379.6Z" fill="#a00000"/>
<path d="M342.2 340.3L355.8 353.9L342.2 367.5L328.6 353.9Z" fill="#a00000"/>
<path d="M389.2 320.1L402.9 333.7L389.2 347.3L375.6 333.7Z" fill="#a00000"/>
<path d="M436.3 294.6L449.9 308.2L436.3 321.8L422.7 308.2Z" fill="#a00000"/>
<path d="M483.3 280.6L496.9 294.2L483.3 307.8L469.7 294.2Z" fill="#a00000"/>
<path d="M530.4 266.1L544.0 279.7L530.4 293.3L516.8 279.7Z" fill="#a00000"/>
<path d="M577.5 254.4L591.1 268.0L577.5 281.6L563.9 268.0Z" fill="#a00000"/>
<path d="M624.5 246.5L638.1 260.1L624.5 273.7L610.9 260.1Z" fill="#a00000"/>
<path d="M671.5 240.7L685.1 254.3L671.5 267.9L657.9 254.3Z" fill="#a00000"/>
<path d="M718.6 231.8L732.2 245.4L718.6 259.0L705.0 245.4Z" fill="#a00000"/>
<path d="M765.6 226.2L779.2 239.8L765.6 253.4L752.0 239.8Z" fill="#a00000"/>
<path d="M812.7 221.2L826.3 234.8L812.7 248.4L799.1 234.8Z" fill="#a00000"/>
<path d="M859.8 219.9L873.4 233.5L859.8 247.1L846.1 233.5Z" fill="#a00000"/>
<path d="M906.8 216.5L920.4 230.1L906.8 243.7L893.2 230.1Z" fill="#a00000"/>
<path d="M953.8 210.5L967.4 224.1L953.8 237.7L940.2 224.1Z" fill="#a00000"/>
<path d="M1000.9 210.3L1014.5 223.9L1000.9 237.5L987.3 223.9Z" fill="#a00000"/>
<path d="M1047.9 210.3L1061.5 223.9L1047.9 237.5L1034.3 223.9Z" fill="#a00000"/>
<path d="M1095.0 205.8L1108.6 219.4L1095.0 233.0L1081.4 219.4Z" fill="#a00000"/>
<path d="M1142.0 205.8L1155.6 219.4L1142.0 233.0L1128.5 219.4Z" fill="#a00000"/>
<path d="M1189.1 205.8L1202.7 219.4L1189.1 233.0L1175.5 219.4Z" fill="#a00000"/>
<path d="M1236.1 206.0L1249.7 219.6L1236.1 233.2L1222.5 219.6Z" fill="#a00000"/>
<path d="M1283.2 206.4L1296.8 220.0L1283.2 233.6L1269.6 220.0Z" fill="#a00000"/>
<path d="M187.6 461.6L214.6 461.6L201.1 487.6Z" fill="#a00000"/>
<path d="M234.6 403.4L261.6 403.4L248.1 429.4Z" fill="#a00000"/>
<path d="M281.6 368.9L308.6 368.9L295.1 394.9Z" fill="#a00000"/>
<path d="M328.7 343.0L355.7 343.0L342.2 369.0Z" fill="#a00000"/>
<path d="M375.8 322.6L402.8 322.6L389.2 348.6Z" fill="#a00000"/>
<path d="M422.8 298.0L449.8 298.0L436.3 324.0Z" fill="#a00000"/>
<path d="M469.8 283.4L496.8 283.4L483.3 309.4Z" fill="#a00000"/>
<path d="M516.9 268.4L543.9 268.4L530.4 294.4Z" fill="#a00000"/>
<path d="M564.0 256.6L591.0 256.6L577.5 282.6Z" fill="#a00000"/>
<path d="M611.0 248.2L638.0 248.2L624.5 274.2Z" fill="#a00000"/>
<path d="M658.0 242.4L685.0 242.4L671.5 268.4Z" fill="#a00000"/>
<path d="M705.1 231.2L732.1 231.2L718.6 257.2Z" fill="#a00000"/>
<path d="M752.1 225.4L779.1 225.4L765.6 251.4Z" fill="#a00000"/>
<path d="M799.2 219.5L826.2 219.5L812.7 245.5Z" fill="#a00000"/>
<path d="M846.2 219.2L873.2 219.2L859.8 245.2Z" fill="#a00000"/>
<path d="M893.3 214.8L920.3 214.8L906.8 240.8Z" fill="#a00000"/>
<path d="M940.3 209.2L967.3 209.2L953.8 235.2Z" fill="#a00000"/>
<path d="M987.4 209.0L1014.4 209.0L1000.9 235.0Z" fill="#a00000"/>
<path d="M1034.4 209.0L1061.4 209.0L1047.9 235.0Z" fill="#a00000"/>
<path d="M1081.5 202.6L1108.5 202.6L1095.0 228.6Z" fill="#a00000"/>
<path d="M1128.5 202.6L1155.5 202.6L1142.0 228.6Z" fill="#a00000"/>
<path d="M1175.6 202.6L1202.6 202.6L1189.1 228.6Z" fill="#a00000"/>
<path d="M1222.6 205.6L1249.6 205.6L1236.1 231.6Z" fill="#a00000"/>
<path d="M1269.7 206.1L1296.7 206.1L1283.2 232.1Z" fill="#a00000"/>
<path d="M201.1 459.0L214.6 486.0L187.6 486.0Z" fill="#a00000"/>
<path d="M248.1 401.3L261.6 428.3L234.6 428.3Z" fill="#a00000"/>
<path d="M295.1 366.9L308.6 393.9L281.6 393.9Z" fill="#a00000"/>
<path d="M342.2 341.1L355.7 368.1L328.7 368.1Z" fill="#a00000"/>
<path d="M389.2 320.8L402.8 347.8L375.8 347.8Z" fill="#a00000"/>
<path d="M436.3 291.9L449.8 318.9L422.8 318.9Z" fill="#a00000"/>
<path d="M483.3 277.3L496.8 304.3L469.8 304.3Z" fill="#a00000"/>
<path d="M530.4 263.6L543.9 290.6L516.9 290.6Z" fill="#a00000"/>
<path d="M577.5 252.1L591.0 279.1L564.0 279.1Z" fill="#a00000"/>
<path d="M624.5 244.9L638.0 271.9L611.0 271.9Z" fill="#a00000"/>
<path d="M671.5 236.5L685.0 263.5L658.0 263.5Z" fill="#a00000"/>
<path d="M718.6 231.4L732.1 258.4L705.1 258.4Z" fill="#a00000"/>
<path d="M765.6 225.6L779.1 252.6L752.1 252.6Z" fill="#a00000"/>
<path d="M812.7 220.2L826.2 247.2L799.2 247.2Z" fill="#a00000"/>
<path d="M859.8 219.4L873.2 246.4L846.2 246.4Z" fill="#a00000"/>
<path d="M906.8 215.5L920.3 242.5L893.3 242.5Z" fill="#a00000"/>
<path d="M953.8 209.7L967.3 236.7L940.3 236.7Z" fill="#a00000"/>
<path d="M1000.9 209.5L1014.4 236.5L987.4 236.5Z" fill="#a00000"/>
<path d="M1047.9 209.5L1061.4 236.5L1034.4 236.5Z" fill="#a00000"/>
<path d="M1095.0 204.4L1108.5 231.4L1081.5 231.4Z" fill="#a00000"/>
<path d="M1142.0 204.4L1155.5 231.4L1128.5 231.4Z" fill="#a00000"/>
<path d="M1189.1 204.4L1202.6 231.4L1175.6 231.4Z" fill="#a00000"/>
<path d="M1236.1 204.5L1249.6 231.5L1222.6 231.5Z" fill="#a00000"/>
<path d="M1283.2 204.9L1296.7 231.9L1269.7 231.9Z" fill="#a00000"/>
<rect x="187.6" y="467.6" width="27.0" height="27.0" fill="#a00000"/>
<rect x="234.6" y="407.7" width="27.0" height="27.0" fill="#a00000"/>
<rect x="281.6" y="372.9" width="27.0" height="27.0" fill="#a00000"/>
<rect x="328.7" y="346.6" width="27.0" height="27.0" fill="#a00000"/>
<rect x="375.8" y="326.1" width="27.0" height="27.0" fill="#a00000"/>
<rect x="422.8" y="303.1" width="27.0" height="27.0" fill="#a00000"/>
<rect x="469.8" y="284.5" width="27.0" height="27.0" fill="#a00000"/>
<rect x="516.9" y="269.9" width="27.0" height="27.0" fill="#a00000"/>
<rect x="564.0" y="254.1" width="27.0" height="27.0" fill="#a00000"/>
<rect x="611.0" y="247.8" width="27.0" height="27.0" fill="#a00000"/>
<rect x="658.0" y="241.9" width="27.0" height="27.0" fill="#a00000"/>
<rect x="705.1" y="230.5" width="27.0" height="27.0" fill="#a00000"/>
<rect x="752.1" y="224.6" width="27.0" height="27.0" fill="#a00000"/>
<rect x="799.2" y="218.5" width="27.0" height="27.0" fill="#a00000"/>
<rect x="846.2" y="218.5" width="27.0" height="27.0" fill="#a00000"/>
<rect x="893.3" y="213.8" width="27.0" height="27.0" fill="#a00000"/>
<rect x="940.3" y="208.4" width="27.0" height="27.0" fill="#a00000"/>
<rect x="987.4" y="208.1" width="27.0" height="27.0" fill="#a00000"/>
<rect x="1034.4" y="208.1" width="27.0" height="27.0" fill="#a00000"/>
<rect x="1081.5" y="205.1" width="27.0" height="27.0" fill="#a00000"/>
<rect x="1128.5" y="205.1" width="27.0" height="27.0" fill="#a00000"/>
<rect x="1175.6" y="205.1" width="27.0" height="27.0" fill="#a00000"/>
<rect x="1222.6" y="201.6" width="27.0" height="27.0" fill="#a00000"/>
<rect x="1269.7" y="202.1" width="27.0" height="27.0" fill="#a00000"/>
<circle cx="201.1" cy="493.0" r="13.4" fill="#a00000"/>
<circle cx="248.1" cy="429.9" r="13.4" fill="#a00000"/>
<circle cx="295.1" cy="394.7" r="13.4" fill="#a00000"/>
<circle cx="342.2" cy="367.7" r="13.4" fill="#a00000"/>
<circle cx="389.2" cy="346.8" r="13.4" fill="#a00000"/>
<circle cx="436.3" cy="325.0" r="13.4" fill="#a00000"/>
<circle cx="483.3" cy="307.7" r="13.4" fill="#a00000"/>
<circle cx="530.4" cy="289.8" r="13.4" fill="#a00000"/>
<circle cx="577.5" cy="277.7" r="13.4" fill="#a00000"/>
<circle cx="624.5" cy="266.9" r="13.4" fill="#a00000"/>
<circle cx="671.5" cy="261.0" r="13.4" fill="#a00000"/>
<circle cx="718.6" cy="249.7" r="13.4" fill="#a00000"/>
<circle cx="765.6" cy="245.0" r="13.4" fill="#a00000"/>
<circle cx="812.7" cy="241.1" r="13.4" fill="#a00000"/>
<circle cx="859.8" cy="234.1" r="13.4" fill="#a00000"/>
<circle cx="906.8" cy="231.3" r="13.4" fill="#a00000"/>
<circle cx="953.8" cy="224.9" r="13.4" fill="#a00000"/>
<circle cx="1000.9" cy="224.8" r="13.4" fill="#a00000"/>
<circle cx="1047.9" cy="224.8" r="13.4" fill="#a00000"/>
<circle cx="1095.0" cy="220.9" r="13.4" fill="#a00000"/>
<circle cx="1142.0" cy="220.9" r="13.4" fill="#a00000"/>
<circle cx="1189.1" cy="220.9" r="13.4" fill="#a00000"/>
<circle cx="1236.1" cy="221.2" r="13.4" fill="#a00000"/>
<circle cx="1283.2" cy="221.6" r="13.4" fill="#a00000"/>
<rect x="140.5" y="897.5" width="27" height="27" fill="#a00000" stroke="#000" stroke-width="1"/>
</g>
<g font-family="Liberation Serif" font-weight="bold" font-size="46" fill="#000" filter="url(#bin)">
<text x="144.3" y="927.7" text-anchor="end" font-size="47">0.0</text>
<text x="144.3" y="635.1" text-anchor="end" font-size="47">0.5</text>
<text x="144.3" y="342.4" text-anchor="end" font-size="47">1.0</text>
<text x="144.3" y="49.8" text-anchor="end" font-size="47">1.5</text>
<text x="154.3" y="966.2" text-anchor="middle" font-size="47">0.0</text>
<text x="382.8" y="966.2" text-anchor="middle" font-size="47">0.1</text>
<text x="613.1" y="966.2" text-anchor="middle" font-size="47">0.2</text>
<text x="842.4" y="966.2" text-anchor="middle" font-size="47">0.3</text>
<text x="1071.8" y="966.2" text-anchor="middle" font-size="47">0.4</text>
<text x="1302.8" y="966.2" text-anchor="middle" font-size="47">0.5</text>
<text x="726.3" y="1037" text-anchor="middle" font-size="47">w (-)</text>
<text transform="translate(55,481.2) rotate(-90)" text-anchor="middle">V(-)</text>
</g>
<g font-family="Liberation Serif" font-weight="bold" font-size="46" fill="#000" filter="url(#bin)">
<rect x="605" y="325.0" width="90" height="5.5" fill="#000080"/>
<circle cx="650.5" cy="328.0" r="13.4" fill="#a00000"/>
<text x="744" y="344.0">5 m/s</text>
<rect x="605" y="428.0" width="90" height="5.5" fill="#000080"/>
<rect x="637.0" y="417.5" width="27.0" height="27.0" fill="#a00000"/>
<text x="744" y="447.0">8 m/s</text>
<rect x="605" y="531.5" width="90" height="5.5" fill="#000080"/>
<path d="M650.5 521.0L664.0 548.0L637.0 548.0Z" fill="#a00000"/>
<text x="744" y="550.5">11 m/s</text>
<rect x="605" y="634.5" width="90" height="5.5" fill="#000080"/>
<path d="M637.0 624.5L664.0 624.5L650.5 650.5Z" fill="#a00000"/>
<text x="744" y="653.5">6.5 m/s</text>
<rect x="605" y="738.0" width="90" height="5.5" fill="#000080"/>
<path d="M650.5 727.4L664.1 741.0L650.5 754.6L636.9 741.0Z" fill="#a00000"/>
<text x="744" y="757.0">9.5 m/s</text>
<rect x="605" y="834.5" width="90" height="5.5" fill="#000080"/>
<circle cx="650.5" cy="837.5" r="12.5" fill="#a00000" stroke="#000" stroke-width="3"/>
<text x="744" y="853.5">12.5 m/s</text>
<rect x="954" y="325.0" width="90" height="5.5" fill="#000080"/>
<rect x="986.5" y="315.5" width="25.0" height="25.0" fill="#a00000" stroke="#000" stroke-width="3"/>
<text x="1093" y="344.0">15 m/s</text>
<rect x="954" y="428.0" width="90" height="5.5" fill="#000080"/>
<path d="M999.0 419.0L1011.5 443.0L986.5 443.0Z" fill="#a00000" stroke="#000" stroke-width="3" stroke-linejoin="round"/>
<text x="1093" y="447.0">20 m/s</text>
<rect x="954" y="531.5" width="90" height="5.5" fill="#000"/>
<path d="M986.5 522.5L1011.5 522.5L999.0 546.5Z" fill="#a00000" stroke="#000" stroke-width="3" stroke-linejoin="round"/>
<text x="1093" y="550.5">25 m/s</text>
<rect x="954" y="634.5" width="90" height="5.5" fill="#000080"/>
<path d="M999.0 625.6L1010.9 637.5L999.0 649.4L987.1 637.5Z" fill="#a00000" stroke="#000" stroke-width="3"/>
<text x="1093" y="653.5">17.5 m/s</text>
<rect x="954" y="738.0" width="90" height="5.5" fill="#000080"/>
<circle cx="999.0" cy="741.0" r="13.4" fill="#000"/>
<text x="1093" y="757.0">22.5 m/s</text>
<rect x="954" y="841.5" width="90" height="5.5" fill="#000080"/>
<path d="M999.00 831.20L1002.17 840.43L1011.93 840.60L1004.14 846.47L1006.99 855.80L999.00 850.20L991.01 855.80L993.86 846.47L986.07 840.60L995.83 840.43Z" fill="#000"/>
<text x="1093" y="860.5">27.5 m/s</text>
</g>
</svg></body></html>
